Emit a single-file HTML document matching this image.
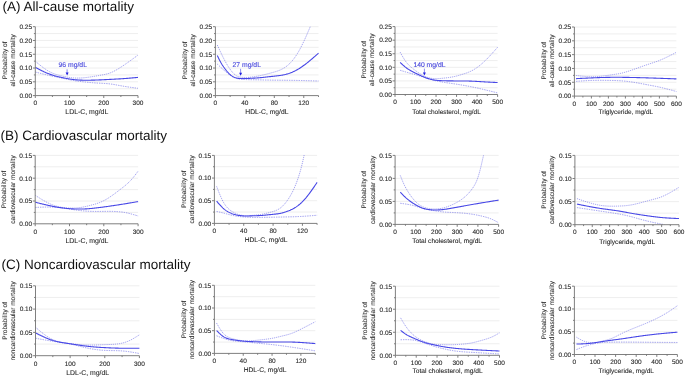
<!DOCTYPE html><html><head><meta charset="utf-8"><style>
html,body{margin:0;padding:0;background:#fff;}
body{width:685px;height:377px;overflow:hidden;}
svg{display:block;will-change:transform;text-rendering:geometricPrecision;font-family:"Liberation Sans", sans-serif;}
.ttl{font-size:13.5px;fill:#111;}
.tl{font-size:6.5px;fill:#262626;stroke:#262626;stroke-width:0.1px;}
.xt{font-size:6.9px;fill:#262626;stroke:#262626;stroke-width:0.08px;}
.yt{font-size:6.5px;fill:#333;stroke:#333;stroke-width:0.1px;}
.ann{font-size:6.8px;fill:#4848dc;stroke:#4848dc;stroke-width:0.12px;}
.grid{stroke:#ececec;stroke-width:0.9;fill:none;}
.axis{stroke:#707070;stroke-width:0.9;fill:none;}
.main{stroke:#4848e6;stroke-width:1.1;fill:none;}
.ci{stroke:#6262e6;stroke-width:0.6;fill:none;stroke-dasharray:1.2 0.9;}
.ci2{stroke:#6262e6;stroke-width:0.6;fill:none;stroke-dasharray:1.4 1;}
.arr{stroke:#8080ee;stroke-width:0.9;fill:none;}
.arrh{fill:#2020e0;}
</style></head><body><svg width="685" height="377" viewBox="0 0 685 377">
<rect width="685" height="377" fill="#fff"/>
<text x="2.60" y="10.60" class="ttl">(A) All-cause mortality</text>
<text x="0.40" y="139.60" class="ttl">(B) Cardiovascular mortality</text>
<text x="1.40" y="269.10" class="ttl">(C) Noncardiovascular mortality</text>
<path d="M35.80,88.71H138.00M35.80,81.82H138.00M35.80,74.93H138.00M35.80,68.04H138.00M35.80,61.15H138.00M35.80,54.26H138.00M35.80,47.37H138.00M35.80,40.48H138.00M35.80,33.59H138.00M35.80,26.70H138.00" class="grid"/>
<clipPath id="clip00"><rect x="35.30" y="26.20" width="103.70" height="69.40"/></clipPath>
<g clip-path="url(#clip00)">
<path d="M35.30,61.21 L36.01,61.80 L36.72,62.39 L37.42,62.99 L38.13,63.58 L38.84,64.16 L39.55,64.74 L40.26,65.31 L40.97,65.88 L41.67,66.43 L42.38,66.98 L43.09,67.51 L43.80,68.04 L44.51,68.55 L45.22,69.04 L45.92,69.52 L46.63,69.99 L47.34,70.43 L48.05,70.86 L48.76,71.27 L49.47,71.66 L50.17,72.02 L50.88,72.37 L51.59,72.71 L52.30,73.02 L53.01,73.32 L53.72,73.60 L54.42,73.87 L55.13,74.12 L55.84,74.36 L56.55,74.59 L57.26,74.80 L57.96,75.01 L58.67,75.20 L59.38,75.39 L60.09,75.57 L60.80,75.74 L61.51,75.91 L62.21,76.07 L62.92,76.22 L63.63,76.37 L64.34,76.52 L65.05,76.67 L65.76,76.81 L66.46,76.94 L67.17,77.07 L67.88,77.20 L68.59,77.31 L69.30,77.43 L70.01,77.53 L70.71,77.63 L71.42,77.72 L72.13,77.80 L72.84,77.87 L73.55,77.93 L74.26,77.98 L74.96,78.02 L75.67,78.05 L76.38,78.07 L77.09,78.08 L77.80,78.08 L78.50,78.07 L79.21,78.06 L79.92,78.03 L80.63,78.00 L81.34,77.96 L82.05,77.92 L82.75,77.86 L83.46,77.80 L84.17,77.74 L84.88,77.66 L85.59,77.59 L86.30,77.50 L87.00,77.42 L87.71,77.33 L88.42,77.23 L89.13,77.13 L89.84,77.03 L90.55,76.92 L91.25,76.81 L91.96,76.70 L92.67,76.59 L93.38,76.47 L94.09,76.35 L94.80,76.23 L95.50,76.11 L96.21,75.99 L96.92,75.87 L97.63,75.75 L98.34,75.63 L99.04,75.50 L99.75,75.38 L100.46,75.26 L101.17,75.14 L101.88,75.02 L102.59,74.89 L103.29,74.75 L104.00,74.62 L104.71,74.47 L105.42,74.31 L106.13,74.14 L106.84,73.96 L107.54,73.77 L108.25,73.56 L108.96,73.34 L109.67,73.09 L110.38,72.83 L111.09,72.55 L111.79,72.25 L112.50,71.93 L113.21,71.60 L113.92,71.25 L114.63,70.89 L115.34,70.51 L116.04,70.12 L116.75,69.71 L117.46,69.30 L118.17,68.88 L118.88,68.44 L119.58,68.00 L120.29,67.55 L121.00,67.09 L121.71,66.63 L122.42,66.16 L123.13,65.69 L123.83,65.21 L124.54,64.73 L125.25,64.25 L125.96,63.76 L126.67,63.27 L127.38,62.77 L128.08,62.27 L128.79,61.77 L129.50,61.27 L130.21,60.76 L130.92,60.25 L131.63,59.74 L132.33,59.23 L133.04,58.71 L133.75,58.20 L134.46,57.68 L135.17,57.16 L135.88,56.65 L136.58,56.13 L137.29,55.61 L138.00,55.09" class="ci"/>
<path d="M35.30,72.01 L36.01,72.19 L36.72,72.38 L37.42,72.56 L38.13,72.75 L38.84,72.93 L39.55,73.11 L40.26,73.30 L40.97,73.48 L41.67,73.66 L42.38,73.84 L43.09,74.01 L43.80,74.19 L44.51,74.36 L45.22,74.54 L45.92,74.71 L46.63,74.88 L47.34,75.04 L48.05,75.21 L48.76,75.37 L49.47,75.53 L50.17,75.68 L50.88,75.84 L51.59,75.99 L52.30,76.14 L53.01,76.29 L53.72,76.44 L54.42,76.59 L55.13,76.73 L55.84,76.88 L56.55,77.02 L57.26,77.17 L57.96,77.31 L58.67,77.46 L59.38,77.60 L60.09,77.75 L60.80,77.90 L61.51,78.04 L62.21,78.19 L62.92,78.34 L63.63,78.49 L64.34,78.65 L65.05,78.80 L65.76,78.96 L66.46,79.12 L67.17,79.27 L67.88,79.42 L68.59,79.57 L69.30,79.72 L70.01,79.86 L70.71,80.00 L71.42,80.13 L72.13,80.26 L72.84,80.39 L73.55,80.51 L74.26,80.63 L74.96,80.74 L75.67,80.85 L76.38,80.95 L77.09,81.06 L77.80,81.16 L78.50,81.25 L79.21,81.35 L79.92,81.44 L80.63,81.53 L81.34,81.61 L82.05,81.69 L82.75,81.78 L83.46,81.85 L84.17,81.93 L84.88,82.01 L85.59,82.08 L86.30,82.15 L87.00,82.22 L87.71,82.29 L88.42,82.36 L89.13,82.43 L89.84,82.49 L90.55,82.55 L91.25,82.61 L91.96,82.67 L92.67,82.73 L93.38,82.78 L94.09,82.84 L94.80,82.89 L95.50,82.94 L96.21,82.99 L96.92,83.03 L97.63,83.08 L98.34,83.12 L99.04,83.16 L99.75,83.20 L100.46,83.24 L101.17,83.28 L101.88,83.31 L102.59,83.35 L103.29,83.39 L104.00,83.43 L104.71,83.47 L105.42,83.51 L106.13,83.56 L106.84,83.62 L107.54,83.67 L108.25,83.74 L108.96,83.81 L109.67,83.88 L110.38,83.97 L111.09,84.06 L111.79,84.16 L112.50,84.27 L113.21,84.38 L113.92,84.50 L114.63,84.62 L115.34,84.74 L116.04,84.87 L116.75,85.00 L117.46,85.13 L118.17,85.26 L118.88,85.40 L119.58,85.53 L120.29,85.66 L121.00,85.79 L121.71,85.92 L122.42,86.04 L123.13,86.17 L123.83,86.28 L124.54,86.40 L125.25,86.51 L125.96,86.63 L126.67,86.73 L127.38,86.84 L128.08,86.95 L128.79,87.05 L129.50,87.15 L130.21,87.25 L130.92,87.35 L131.63,87.44 L132.33,87.54 L133.04,87.63 L133.75,87.72 L134.46,87.82 L135.17,87.91 L135.88,88.00 L136.58,88.09 L137.29,88.18 L138.00,88.27" class="ci2"/>
<path d="M35.30,67.30 L36.01,67.68 L36.72,68.05 L37.42,68.43 L38.13,68.81 L38.84,69.18 L39.55,69.55 L40.26,69.92 L40.97,70.28 L41.67,70.64 L42.38,70.99 L43.09,71.34 L43.80,71.68 L44.51,72.02 L45.22,72.34 L45.92,72.66 L46.63,72.97 L47.34,73.27 L48.05,73.56 L48.76,73.84 L49.47,74.11 L50.17,74.37 L50.88,74.62 L51.59,74.86 L52.30,75.09 L53.01,75.31 L53.72,75.52 L54.42,75.73 L55.13,75.93 L55.84,76.12 L56.55,76.31 L57.26,76.48 L57.96,76.66 L58.67,76.83 L59.38,76.99 L60.09,77.15 L60.80,77.30 L61.51,77.45 L62.21,77.60 L62.92,77.75 L63.63,77.89 L64.34,78.03 L65.05,78.17 L65.76,78.31 L66.46,78.44 L67.17,78.57 L67.88,78.70 L68.59,78.83 L69.30,78.95 L70.01,79.06 L70.71,79.17 L71.42,79.28 L72.13,79.38 L72.84,79.47 L73.55,79.56 L74.26,79.65 L74.96,79.72 L75.67,79.79 L76.38,79.86 L77.09,79.91 L77.80,79.97 L78.50,80.01 L79.21,80.05 L79.92,80.09 L80.63,80.12 L81.34,80.15 L82.05,80.17 L82.75,80.19 L83.46,80.21 L84.17,80.22 L84.88,80.23 L85.59,80.23 L86.30,80.23 L87.00,80.23 L87.71,80.22 L88.42,80.22 L89.13,80.21 L89.84,80.20 L90.55,80.19 L91.25,80.17 L91.96,80.15 L92.67,80.14 L93.38,80.12 L94.09,80.10 L94.80,80.08 L95.50,80.05 L96.21,80.03 L96.92,80.00 L97.63,79.98 L98.34,79.95 L99.04,79.92 L99.75,79.89 L100.46,79.86 L101.17,79.83 L101.88,79.79 L102.59,79.76 L103.29,79.73 L104.00,79.69 L104.71,79.66 L105.42,79.62 L106.13,79.59 L106.84,79.55 L107.54,79.52 L108.25,79.48 L108.96,79.44 L109.67,79.41 L110.38,79.37 L111.09,79.34 L111.79,79.30 L112.50,79.26 L113.21,79.22 L113.92,79.19 L114.63,79.15 L115.34,79.11 L116.04,79.07 L116.75,79.03 L117.46,78.99 L118.17,78.95 L118.88,78.91 L119.58,78.87 L120.29,78.83 L121.00,78.78 L121.71,78.74 L122.42,78.69 L123.13,78.64 L123.83,78.59 L124.54,78.55 L125.25,78.49 L125.96,78.44 L126.67,78.39 L127.38,78.33 L128.08,78.28 L128.79,78.22 L129.50,78.16 L130.21,78.10 L130.92,78.04 L131.63,77.98 L132.33,77.92 L133.04,77.86 L133.75,77.79 L134.46,77.73 L135.17,77.67 L135.88,77.60 L136.58,77.54 L137.29,77.47 L138.00,77.41" class="main"/>
</g>
<path d="M35.30,26.70V95.60H138.00M32.90,95.60H35.30M33.90,88.71H35.30M32.90,81.82H35.30M33.90,74.93H35.30M32.90,68.04H35.30M33.90,61.15H35.30M32.90,54.26H35.30M33.90,47.37H35.30M32.90,40.48H35.30M33.90,33.59H35.30M32.90,26.70H35.30M35.30,95.60V98.00M69.53,95.60V98.00M103.77,95.60V98.00M138.00,95.60V98.00M52.42,95.60V97.00M86.65,95.60V97.00M120.88,95.60V97.00" class="axis"/>
<text x="32.10" y="97.90" class="tl" text-anchor="end">0.00</text>
<text x="32.10" y="84.12" class="tl" text-anchor="end">0.05</text>
<text x="32.10" y="70.34" class="tl" text-anchor="end">0.10</text>
<text x="32.10" y="56.56" class="tl" text-anchor="end">0.15</text>
<text x="32.10" y="42.78" class="tl" text-anchor="end">0.20</text>
<text x="32.10" y="29.00" class="tl" text-anchor="end">0.25</text>
<text x="35.30" y="104.90" class="tl" text-anchor="middle">0</text>
<text x="69.53" y="104.90" class="tl" text-anchor="middle">100</text>
<text x="103.77" y="104.90" class="tl" text-anchor="middle">200</text>
<text x="138.00" y="104.90" class="tl" text-anchor="middle">300</text>
<text x="86.80" y="114.20" class="xt" style="font-size:6.90px" text-anchor="middle">LDL-C, mg/dL</text>
<text transform="translate(6.50,60.35) rotate(-90)" class="yt" text-anchor="middle">Probability of</text>
<text transform="translate(14.70,60.35) rotate(-90)" class="yt" text-anchor="middle">all-cause mortality</text>
<text x="58.60" y="66.90" class="ann">96 mg/dL</text>
<path d="M67.10,69.30V73.10" class="arr"/>
<path d="M65.60,72.60L68.60,72.60L67.10,75.60Z" class="arrh"/>
<path d="M215.90,88.71H318.50M215.90,81.82H318.50M215.90,74.93H318.50M215.90,68.04H318.50M215.90,61.15H318.50M215.90,54.26H318.50M215.90,47.37H318.50M215.90,40.48H318.50M215.90,33.59H318.50M215.90,26.70H318.50" class="grid"/>
<clipPath id="clip01"><rect x="215.40" y="26.20" width="104.10" height="69.40"/></clipPath>
<g clip-path="url(#clip01)">
<path d="M217.31,45.00 L218.02,46.55 L218.73,48.09 L219.44,49.63 L220.15,51.16 L220.86,52.67 L221.57,54.16 L222.28,55.64 L222.99,57.08 L223.70,58.49 L224.41,59.87 L225.12,61.20 L225.83,62.49 L226.54,63.73 L227.25,64.93 L227.96,66.08 L228.67,67.18 L229.38,68.24 L230.08,69.25 L230.79,70.21 L231.50,71.12 L232.21,71.98 L232.92,72.78 L233.63,73.53 L234.34,74.20 L235.05,74.81 L235.76,75.34 L236.47,75.79 L237.18,76.17 L237.89,76.47 L238.60,76.71 L239.31,76.90 L240.02,77.04 L240.73,77.15 L241.44,77.23 L242.15,77.29 L242.85,77.34 L243.56,77.38 L244.27,77.41 L244.98,77.43 L245.69,77.44 L246.40,77.44 L247.11,77.42 L247.82,77.39 L248.53,77.36 L249.24,77.31 L249.95,77.25 L250.66,77.19 L251.37,77.11 L252.08,77.03 L252.79,76.94 L253.50,76.84 L254.21,76.73 L254.92,76.62 L255.62,76.50 L256.33,76.37 L257.04,76.24 L257.75,76.11 L258.46,75.97 L259.17,75.82 L259.88,75.67 L260.59,75.52 L261.30,75.37 L262.01,75.21 L262.72,75.05 L263.43,74.89 L264.14,74.72 L264.85,74.55 L265.56,74.38 L266.27,74.20 L266.98,74.02 L267.69,73.84 L268.39,73.66 L269.10,73.47 L269.81,73.28 L270.52,73.09 L271.23,72.90 L271.94,72.70 L272.65,72.50 L273.36,72.30 L274.07,72.10 L274.78,71.89 L275.49,71.67 L276.20,71.45 L276.91,71.22 L277.62,70.97 L278.33,70.72 L279.04,70.44 L279.75,70.16 L280.46,69.85 L281.16,69.53 L281.87,69.18 L282.58,68.81 L283.29,68.42 L284.00,68.01 L284.71,67.56 L285.42,67.09 L286.13,66.59 L286.84,66.05 L287.55,65.48 L288.26,64.88 L288.97,64.24 L289.68,63.57 L290.39,62.85 L291.10,62.10 L291.81,61.30 L292.52,60.47 L293.23,59.59 L293.93,58.67 L294.64,57.71 L295.35,56.71 L296.06,55.66 L296.77,54.57 L297.48,53.44 L298.19,52.25 L298.90,51.03 L299.61,49.75 L300.32,48.44 L301.03,47.08 L301.74,45.68 L302.45,44.25 L303.16,42.78 L303.87,41.27 L304.58,39.74 L305.29,38.18 L306.00,36.59 L306.70,34.98 L307.41,33.35 L308.12,31.70 L308.83,30.04 L309.54,28.37 L310.25,26.70" class="ci"/>
<path d="M217.31,63.99 L218.02,64.69 L218.73,65.39 L219.44,66.09 L220.15,66.77 L220.85,67.44 L221.56,68.09 L222.27,68.73 L222.98,69.36 L223.68,69.97 L224.39,70.58 L225.10,71.19 L225.81,71.79 L226.51,72.39 L227.22,72.98 L227.93,73.55 L228.64,74.11 L229.34,74.65 L230.05,75.16 L230.76,75.65 L231.47,76.10 L232.17,76.53 L232.88,76.92 L233.59,77.28 L234.30,77.61 L235.00,77.91 L235.71,78.18 L236.42,78.41 L237.13,78.61 L237.83,78.77 L238.54,78.92 L239.25,79.04 L239.96,79.14 L240.67,79.22 L241.37,79.29 L242.08,79.35 L242.79,79.41 L243.50,79.46 L244.20,79.50 L244.91,79.54 L245.62,79.57 L246.33,79.60 L247.03,79.63 L247.74,79.65 L248.45,79.67 L249.16,79.68 L249.86,79.70 L250.57,79.71 L251.28,79.72 L251.99,79.73 L252.69,79.74 L253.40,79.75 L254.11,79.77 L254.82,79.78 L255.52,79.79 L256.23,79.81 L256.94,79.82 L257.65,79.84 L258.35,79.85 L259.06,79.87 L259.77,79.88 L260.48,79.90 L261.19,79.92 L261.89,79.93 L262.60,79.95 L263.31,79.97 L264.02,79.98 L264.72,80.00 L265.43,80.02 L266.14,80.03 L266.85,80.05 L267.55,80.06 L268.26,80.08 L268.97,80.09 L269.68,80.11 L270.38,80.12 L271.09,80.14 L271.80,80.15 L272.51,80.16 L273.21,80.17 L273.92,80.18 L274.63,80.19 L275.34,80.20 L276.04,80.21 L276.75,80.22 L277.46,80.23 L278.17,80.23 L278.87,80.24 L279.58,80.24 L280.29,80.25 L281.00,80.26 L281.71,80.26 L282.41,80.27 L283.12,80.27 L283.83,80.28 L284.54,80.28 L285.24,80.29 L285.95,80.29 L286.66,80.30 L287.37,80.30 L288.07,80.31 L288.78,80.32 L289.49,80.32 L290.20,80.33 L290.90,80.34 L291.61,80.35 L292.32,80.36 L293.03,80.37 L293.73,80.38 L294.44,80.39 L295.15,80.40 L295.86,80.41 L296.56,80.42 L297.27,80.43 L297.98,80.45 L298.69,80.46 L299.40,80.48 L300.10,80.49 L300.81,80.51 L301.52,80.52 L302.23,80.54 L302.93,80.56 L303.64,80.57 L304.35,80.59 L305.06,80.61 L305.76,80.63 L306.47,80.65 L307.18,80.66 L307.89,80.68 L308.59,80.70 L309.30,80.72 L310.01,80.74 L310.72,80.76 L311.42,80.78 L312.13,80.80 L312.84,80.82 L313.55,80.85 L314.25,80.87 L314.96,80.89 L315.67,80.91 L316.38,80.93 L317.08,80.95 L317.79,80.97 L318.50,80.99" class="ci2"/>
<path d="M217.31,55.61 L218.02,57.07 L218.73,58.51 L219.44,59.92 L220.15,61.28 L220.85,62.58 L221.56,63.79 L222.27,64.94 L222.98,66.02 L223.68,67.05 L224.39,68.03 L225.10,68.97 L225.81,69.89 L226.51,70.77 L227.22,71.62 L227.93,72.42 L228.64,73.18 L229.34,73.88 L230.05,74.54 L230.76,75.13 L231.47,75.66 L232.17,76.13 L232.88,76.55 L233.59,76.91 L234.30,77.23 L235.00,77.50 L235.71,77.74 L236.42,77.93 L237.13,78.10 L237.83,78.23 L238.54,78.34 L239.25,78.42 L239.96,78.48 L240.67,78.53 L241.37,78.55 L242.08,78.57 L242.79,78.58 L243.50,78.57 L244.20,78.56 L244.91,78.55 L245.62,78.53 L246.33,78.50 L247.03,78.47 L247.74,78.45 L248.45,78.42 L249.16,78.38 L249.86,78.35 L250.57,78.32 L251.28,78.29 L251.99,78.25 L252.69,78.21 L253.40,78.17 L254.11,78.13 L254.82,78.09 L255.52,78.05 L256.23,78.00 L256.94,77.95 L257.65,77.90 L258.35,77.84 L259.06,77.78 L259.77,77.72 L260.48,77.66 L261.19,77.59 L261.89,77.52 L262.60,77.45 L263.31,77.38 L264.02,77.30 L264.72,77.22 L265.43,77.15 L266.14,77.07 L266.85,76.99 L267.55,76.91 L268.26,76.82 L268.97,76.74 L269.68,76.66 L270.38,76.58 L271.09,76.50 L271.80,76.42 L272.51,76.34 L273.21,76.27 L273.92,76.19 L274.63,76.12 L275.34,76.04 L276.04,75.96 L276.75,75.88 L277.46,75.80 L278.17,75.72 L278.87,75.63 L279.58,75.53 L280.29,75.43 L281.00,75.32 L281.71,75.21 L282.41,75.09 L283.12,74.96 L283.83,74.82 L284.54,74.67 L285.24,74.51 L285.95,74.34 L286.66,74.15 L287.37,73.95 L288.07,73.74 L288.78,73.52 L289.49,73.28 L290.20,73.02 L290.90,72.75 L291.61,72.46 L292.32,72.17 L293.03,71.85 L293.73,71.52 L294.44,71.18 L295.15,70.83 L295.86,70.46 L296.56,70.07 L297.27,69.68 L297.98,69.27 L298.69,68.85 L299.40,68.41 L300.10,67.96 L300.81,67.50 L301.52,67.03 L302.23,66.55 L302.93,66.05 L303.64,65.54 L304.35,65.02 L305.06,64.50 L305.76,63.96 L306.47,63.41 L307.18,62.85 L307.89,62.29 L308.59,61.71 L309.30,61.13 L310.01,60.54 L310.72,59.95 L311.42,59.35 L312.13,58.75 L312.84,58.14 L313.55,57.52 L314.25,56.91 L314.96,56.29 L315.67,55.66 L316.38,55.04 L317.08,54.41 L317.79,53.79 L318.50,53.16" class="main"/>
</g>
<path d="M215.40,26.70V95.60H318.50M213.00,95.60H215.40M214.00,88.71H215.40M213.00,81.82H215.40M214.00,74.93H215.40M213.00,68.04H215.40M214.00,61.15H215.40M213.00,54.26H215.40M214.00,47.37H215.40M213.00,40.48H215.40M214.00,33.59H215.40M213.00,26.70H215.40M215.40,95.60V98.00M244.86,95.60V98.00M274.31,95.60V98.00M303.77,95.60V98.00M230.13,95.60V97.00M259.59,95.60V97.00M289.04,95.60V97.00M318.50,95.60V97.00" class="axis"/>
<text x="212.20" y="97.90" class="tl" text-anchor="end">0.00</text>
<text x="212.20" y="84.12" class="tl" text-anchor="end">0.05</text>
<text x="212.20" y="70.34" class="tl" text-anchor="end">0.10</text>
<text x="212.20" y="56.56" class="tl" text-anchor="end">0.15</text>
<text x="212.20" y="42.78" class="tl" text-anchor="end">0.20</text>
<text x="212.20" y="29.00" class="tl" text-anchor="end">0.25</text>
<text x="215.40" y="104.90" class="tl" text-anchor="middle">0</text>
<text x="244.86" y="104.90" class="tl" text-anchor="middle">40</text>
<text x="274.31" y="104.90" class="tl" text-anchor="middle">80</text>
<text x="303.77" y="104.90" class="tl" text-anchor="middle">120</text>
<text x="266.90" y="113.90" class="xt" style="font-size:6.75px" text-anchor="middle">HDL-C, mg/dL</text>
<text transform="translate(186.60,60.35) rotate(-90)" class="yt" text-anchor="middle">Probability of</text>
<text transform="translate(194.80,60.35) rotate(-90)" class="yt" text-anchor="middle">all-cause mortality</text>
<text x="232.60" y="66.90" class="ann">27 mg/dL</text>
<path d="M240.60,68.80V73.20" class="arr"/>
<path d="M239.10,72.70L242.10,72.70L240.60,75.70Z" class="arrh"/>
<path d="M395.50,87.71H497.60M395.50,80.92H497.60M395.50,74.13H497.60M395.50,67.34H497.60M395.50,60.55H497.60M395.50,53.76H497.60M395.50,46.97H497.60M395.50,40.18H497.60M395.50,33.39H497.60M395.50,26.60H497.60" class="grid"/>
<clipPath id="clip02"><rect x="395.00" y="26.10" width="103.60" height="68.40"/></clipPath>
<g clip-path="url(#clip02)">
<path d="M400.13,52.13 L400.84,53.40 L401.54,54.67 L402.25,55.91 L402.96,57.13 L403.66,58.30 L404.37,59.44 L405.07,60.51 L405.78,61.52 L406.49,62.45 L407.19,63.32 L407.90,64.13 L408.61,64.88 L409.31,65.59 L410.02,66.25 L410.72,66.88 L411.43,67.47 L412.14,68.05 L412.84,68.60 L413.55,69.15 L414.26,69.68 L414.96,70.22 L415.67,70.74 L416.38,71.26 L417.08,71.77 L417.79,72.27 L418.49,72.76 L419.20,73.23 L419.91,73.69 L420.61,74.13 L421.32,74.56 L422.03,74.96 L422.73,75.35 L423.44,75.72 L424.14,76.06 L424.85,76.38 L425.56,76.68 L426.26,76.96 L426.97,77.21 L427.68,77.45 L428.38,77.66 L429.09,77.85 L429.79,78.02 L430.50,78.17 L431.21,78.30 L431.91,78.41 L432.62,78.50 L433.33,78.57 L434.03,78.62 L434.74,78.66 L435.45,78.68 L436.15,78.68 L436.86,78.67 L437.56,78.65 L438.27,78.61 L438.98,78.57 L439.68,78.52 L440.39,78.46 L441.10,78.40 L441.80,78.33 L442.51,78.26 L443.21,78.18 L443.92,78.11 L444.63,78.03 L445.33,77.96 L446.04,77.87 L446.75,77.79 L447.45,77.70 L448.16,77.61 L448.87,77.51 L449.57,77.41 L450.28,77.30 L450.98,77.19 L451.69,77.07 L452.40,76.94 L453.10,76.80 L453.81,76.65 L454.52,76.50 L455.22,76.33 L455.93,76.16 L456.63,75.99 L457.34,75.80 L458.05,75.61 L458.75,75.42 L459.46,75.22 L460.17,75.01 L460.87,74.80 L461.58,74.59 L462.28,74.37 L462.99,74.15 L463.70,73.93 L464.40,73.70 L465.11,73.47 L465.82,73.23 L466.52,72.98 L467.23,72.72 L467.94,72.45 L468.64,72.17 L469.35,71.87 L470.05,71.56 L470.76,71.24 L471.47,70.90 L472.17,70.54 L472.88,70.16 L473.59,69.76 L474.29,69.34 L475.00,68.90 L475.70,68.44 L476.41,67.97 L477.12,67.47 L477.82,66.96 L478.53,66.43 L479.24,65.88 L479.94,65.32 L480.65,64.74 L481.36,64.14 L482.06,63.53 L482.77,62.91 L483.47,62.26 L484.18,61.61 L484.89,60.93 L485.59,60.25 L486.30,59.55 L487.01,58.85 L487.71,58.13 L488.42,57.40 L489.12,56.66 L489.83,55.91 L490.54,55.15 L491.24,54.38 L491.95,53.61 L492.66,52.83 L493.36,52.04 L494.07,51.25 L494.77,50.45 L495.48,49.65 L496.19,48.85 L496.89,48.05 L497.60,47.24" class="ci"/>
<path d="M400.13,70.33 L400.84,70.53 L401.54,70.73 L402.25,70.94 L402.96,71.14 L403.66,71.35 L404.37,71.55 L405.07,71.75 L405.78,71.96 L406.49,72.16 L407.19,72.36 L407.90,72.57 L408.61,72.77 L409.31,72.98 L410.02,73.18 L410.72,73.39 L411.43,73.59 L412.14,73.79 L412.84,74.00 L413.55,74.20 L414.26,74.41 L414.96,74.61 L415.67,74.82 L416.38,75.02 L417.08,75.23 L417.79,75.44 L418.49,75.65 L419.20,75.86 L419.91,76.07 L420.61,76.28 L421.32,76.49 L422.03,76.71 L422.73,76.93 L423.44,77.15 L424.14,77.37 L424.85,77.59 L425.56,77.81 L426.26,78.04 L426.97,78.26 L427.68,78.49 L428.38,78.71 L429.09,78.93 L429.79,79.14 L430.50,79.35 L431.21,79.56 L431.91,79.76 L432.62,79.96 L433.33,80.15 L434.03,80.33 L434.74,80.51 L435.45,80.68 L436.15,80.84 L436.86,81.00 L437.56,81.15 L438.27,81.29 L438.98,81.44 L439.68,81.57 L440.39,81.71 L441.10,81.83 L441.80,81.96 L442.51,82.08 L443.21,82.20 L443.92,82.31 L444.63,82.42 L445.33,82.53 L446.04,82.64 L446.75,82.75 L447.45,82.85 L448.16,82.96 L448.87,83.06 L449.57,83.16 L450.28,83.26 L450.98,83.36 L451.69,83.47 L452.40,83.57 L453.10,83.67 L453.81,83.77 L454.52,83.88 L455.22,83.99 L455.93,84.09 L456.63,84.20 L457.34,84.31 L458.05,84.42 L458.75,84.54 L459.46,84.65 L460.17,84.76 L460.87,84.88 L461.58,85.00 L462.28,85.12 L462.99,85.24 L463.70,85.36 L464.40,85.48 L465.11,85.61 L465.82,85.74 L466.52,85.86 L467.23,85.99 L467.94,86.13 L468.64,86.26 L469.35,86.39 L470.05,86.53 L470.76,86.67 L471.47,86.81 L472.17,86.95 L472.88,87.10 L473.59,87.24 L474.29,87.39 L475.00,87.54 L475.70,87.69 L476.41,87.84 L477.12,88.00 L477.82,88.15 L478.53,88.31 L479.24,88.47 L479.94,88.63 L480.65,88.79 L481.36,88.95 L482.06,89.12 L482.77,89.28 L483.47,89.45 L484.18,89.61 L484.89,89.78 L485.59,89.95 L486.30,90.12 L487.01,90.29 L487.71,90.47 L488.42,90.64 L489.12,90.81 L489.83,90.99 L490.54,91.16 L491.24,91.33 L491.95,91.51 L492.66,91.69 L493.36,91.86 L494.07,92.04 L494.77,92.22 L495.48,92.39 L496.19,92.57 L496.89,92.75 L497.60,92.92" class="ci2"/>
<path d="M400.13,62.45 L400.84,63.11 L401.54,63.77 L402.25,64.42 L402.96,65.06 L403.66,65.68 L404.37,66.29 L405.07,66.87 L405.78,67.42 L406.49,67.95 L407.19,68.46 L407.90,68.93 L408.61,69.39 L409.31,69.83 L410.02,70.25 L410.72,70.65 L411.43,71.04 L412.14,71.42 L412.84,71.80 L413.55,72.17 L414.26,72.53 L414.96,72.89 L415.67,73.24 L416.38,73.60 L417.08,73.94 L417.79,74.29 L418.49,74.62 L419.20,74.95 L419.91,75.28 L420.61,75.60 L421.32,75.91 L422.03,76.22 L422.73,76.52 L423.44,76.81 L424.14,77.10 L424.85,77.37 L425.56,77.64 L426.26,77.90 L426.97,78.15 L427.68,78.38 L428.38,78.61 L429.09,78.83 L429.79,79.03 L430.50,79.22 L431.21,79.40 L431.91,79.57 L432.62,79.72 L433.33,79.86 L434.03,79.99 L434.74,80.10 L435.45,80.20 L436.15,80.29 L436.86,80.36 L437.56,80.43 L438.27,80.49 L438.98,80.54 L439.68,80.59 L440.39,80.62 L441.10,80.66 L441.80,80.69 L442.51,80.71 L443.21,80.74 L443.92,80.76 L444.63,80.78 L445.33,80.80 L446.04,80.81 L446.75,80.83 L447.45,80.85 L448.16,80.86 L448.87,80.87 L449.57,80.88 L450.28,80.89 L450.98,80.90 L451.69,80.91 L452.40,80.92 L453.10,80.92 L453.81,80.93 L454.52,80.93 L455.22,80.94 L455.93,80.94 L456.63,80.94 L457.34,80.94 L458.05,80.95 L458.75,80.95 L459.46,80.95 L460.17,80.96 L460.87,80.96 L461.58,80.96 L462.28,80.97 L462.99,80.98 L463.70,80.98 L464.40,80.99 L465.11,81.00 L465.82,81.01 L466.52,81.02 L467.23,81.03 L467.94,81.05 L468.64,81.06 L469.35,81.08 L470.05,81.10 L470.76,81.12 L471.47,81.15 L472.17,81.18 L472.88,81.21 L473.59,81.24 L474.29,81.27 L475.00,81.31 L475.70,81.35 L476.41,81.38 L477.12,81.43 L477.82,81.47 L478.53,81.51 L479.24,81.55 L479.94,81.60 L480.65,81.64 L481.36,81.68 L482.06,81.73 L482.77,81.77 L483.47,81.81 L484.18,81.85 L484.89,81.89 L485.59,81.93 L486.30,81.97 L487.01,82.01 L487.71,82.05 L488.42,82.08 L489.12,82.12 L489.83,82.16 L490.54,82.20 L491.24,82.23 L491.95,82.27 L492.66,82.30 L493.36,82.34 L494.07,82.37 L494.77,82.41 L495.48,82.44 L496.19,82.48 L496.89,82.51 L497.60,82.55" class="main"/>
</g>
<path d="M395.00,26.60V94.50H497.60M392.60,94.50H395.00M393.60,87.71H395.00M392.60,80.92H395.00M393.60,74.13H395.00M392.60,67.34H395.00M393.60,60.55H395.00M392.60,53.76H395.00M393.60,46.97H395.00M392.60,40.18H395.00M393.60,33.39H395.00M392.60,26.60H395.00M395.00,94.50V96.90M415.52,94.50V96.90M436.04,94.50V96.90M456.56,94.50V96.90M477.08,94.50V96.90M497.60,94.50V96.90M405.26,94.50V95.90M425.78,94.50V95.90M446.30,94.50V95.90M466.82,94.50V95.90M487.34,94.50V95.90" class="axis"/>
<text x="391.80" y="96.80" class="tl" text-anchor="end">0.00</text>
<text x="391.80" y="83.22" class="tl" text-anchor="end">0.05</text>
<text x="391.80" y="69.64" class="tl" text-anchor="end">0.10</text>
<text x="391.80" y="56.06" class="tl" text-anchor="end">0.15</text>
<text x="391.80" y="42.48" class="tl" text-anchor="end">0.20</text>
<text x="391.80" y="28.90" class="tl" text-anchor="end">0.25</text>
<text x="395.00" y="104.40" class="tl" text-anchor="middle">0</text>
<text x="415.52" y="104.40" class="tl" text-anchor="middle">100</text>
<text x="436.04" y="104.40" class="tl" text-anchor="middle">200</text>
<text x="456.56" y="104.40" class="tl" text-anchor="middle">300</text>
<text x="477.08" y="104.40" class="tl" text-anchor="middle">400</text>
<text x="497.60" y="104.40" class="tl" text-anchor="middle">500</text>
<text x="446.50" y="113.70" class="xt" style="font-size:6.50px" text-anchor="middle">Total cholesterol, mg/dL</text>
<text transform="translate(366.20,59.75) rotate(-90)" class="yt" text-anchor="middle">Probability of</text>
<text transform="translate(374.40,59.75) rotate(-90)" class="yt" text-anchor="middle">all-cause mortality</text>
<text x="413.40" y="66.80" class="ann">140 mg/dL</text>
<path d="M424.40,68.60V73.10" class="arr"/>
<path d="M422.90,72.60L425.90,72.60L424.40,75.60Z" class="arrh"/>
<path d="M574.90,89.19H676.40M574.90,82.28H676.40M574.90,75.37H676.40M574.90,68.46H676.40M574.90,61.55H676.40M574.90,54.64H676.40M574.90,47.73H676.40M574.90,40.82H676.40M574.90,33.91H676.40M574.90,27.00H676.40" class="grid"/>
<clipPath id="clip03"><rect x="574.40" y="26.50" width="103.00" height="69.60"/></clipPath>
<g clip-path="url(#clip03)">
<path d="M576.10,75.48 L576.81,75.56 L577.51,75.65 L578.22,75.73 L578.93,75.81 L579.63,75.89 L580.34,75.97 L581.04,76.05 L581.75,76.12 L582.46,76.19 L583.16,76.26 L583.87,76.33 L584.58,76.39 L585.28,76.45 L585.99,76.50 L586.70,76.55 L587.40,76.60 L588.11,76.64 L588.81,76.67 L589.52,76.70 L590.23,76.72 L590.93,76.74 L591.64,76.75 L592.35,76.75 L593.05,76.75 L593.76,76.74 L594.46,76.72 L595.17,76.69 L595.88,76.66 L596.58,76.62 L597.29,76.58 L598.00,76.53 L598.70,76.47 L599.41,76.41 L600.12,76.34 L600.82,76.27 L601.53,76.19 L602.23,76.11 L602.94,76.03 L603.65,75.94 L604.35,75.85 L605.06,75.75 L605.77,75.66 L606.47,75.56 L607.18,75.46 L607.89,75.35 L608.59,75.25 L609.30,75.15 L610.00,75.04 L610.71,74.94 L611.42,74.84 L612.12,74.73 L612.83,74.63 L613.54,74.53 L614.24,74.43 L614.95,74.33 L615.65,74.23 L616.36,74.12 L617.07,74.01 L617.77,73.89 L618.48,73.77 L619.19,73.64 L619.89,73.50 L620.60,73.36 L621.31,73.20 L622.01,73.04 L622.72,72.86 L623.42,72.68 L624.13,72.49 L624.84,72.30 L625.54,72.10 L626.25,71.89 L626.96,71.68 L627.66,71.46 L628.37,71.23 L629.08,71.00 L629.78,70.77 L630.49,70.54 L631.19,70.30 L631.90,70.05 L632.61,69.81 L633.31,69.56 L634.02,69.31 L634.73,69.06 L635.43,68.81 L636.14,68.56 L636.85,68.30 L637.55,68.05 L638.26,67.79 L638.96,67.54 L639.67,67.29 L640.38,67.03 L641.08,66.78 L641.79,66.53 L642.50,66.28 L643.20,66.03 L643.91,65.78 L644.61,65.53 L645.32,65.29 L646.03,65.05 L646.73,64.81 L647.44,64.57 L648.15,64.34 L648.85,64.11 L649.56,63.87 L650.27,63.64 L650.97,63.41 L651.68,63.18 L652.38,62.94 L653.09,62.71 L653.80,62.47 L654.50,62.23 L655.21,61.99 L655.92,61.74 L656.62,61.49 L657.33,61.23 L658.04,60.97 L658.74,60.70 L659.45,60.42 L660.15,60.14 L660.86,59.85 L661.57,59.55 L662.27,59.25 L662.98,58.94 L663.69,58.63 L664.39,58.30 L665.10,57.98 L665.80,57.65 L666.51,57.31 L667.22,56.97 L667.92,56.63 L668.63,56.28 L669.34,55.93 L670.04,55.57 L670.75,55.21 L671.46,54.85 L672.16,54.49 L672.87,54.13 L673.57,53.76 L674.28,53.40 L674.99,53.03 L675.69,52.66 L676.40,52.29" class="ci"/>
<path d="M576.10,81.37 L576.81,81.32 L577.51,81.26 L578.22,81.21 L578.93,81.16 L579.63,81.11 L580.34,81.06 L581.04,81.01 L581.75,80.96 L582.46,80.91 L583.16,80.87 L583.87,80.82 L584.58,80.78 L585.28,80.74 L585.99,80.69 L586.70,80.65 L587.40,80.62 L588.11,80.58 L588.81,80.55 L589.52,80.51 L590.23,80.48 L590.93,80.46 L591.64,80.43 L592.35,80.41 L593.05,80.39 L593.76,80.37 L594.46,80.36 L595.17,80.34 L595.88,80.33 L596.58,80.32 L597.29,80.32 L598.00,80.31 L598.70,80.31 L599.41,80.31 L600.12,80.31 L600.82,80.31 L601.53,80.32 L602.23,80.32 L602.94,80.33 L603.65,80.34 L604.35,80.34 L605.06,80.35 L605.77,80.36 L606.47,80.37 L607.18,80.38 L607.89,80.39 L608.59,80.40 L609.30,80.41 L610.00,80.43 L610.71,80.44 L611.42,80.45 L612.12,80.47 L612.83,80.48 L613.54,80.50 L614.24,80.52 L614.95,80.54 L615.65,80.56 L616.36,80.59 L617.07,80.61 L617.77,80.64 L618.48,80.68 L619.19,80.72 L619.89,80.76 L620.60,80.80 L621.31,80.85 L622.01,80.90 L622.72,80.95 L623.42,81.01 L624.13,81.08 L624.84,81.14 L625.54,81.21 L626.25,81.28 L626.96,81.36 L627.66,81.44 L628.37,81.53 L629.08,81.61 L629.78,81.70 L630.49,81.80 L631.19,81.90 L631.90,82.00 L632.61,82.10 L633.31,82.21 L634.02,82.32 L634.73,82.44 L635.43,82.56 L636.14,82.68 L636.85,82.80 L637.55,82.92 L638.26,83.05 L638.96,83.18 L639.67,83.31 L640.38,83.44 L641.08,83.57 L641.79,83.71 L642.50,83.84 L643.20,83.98 L643.91,84.11 L644.61,84.25 L645.32,84.38 L646.03,84.52 L646.73,84.65 L647.44,84.78 L648.15,84.91 L648.85,85.05 L649.56,85.18 L650.27,85.31 L650.97,85.44 L651.68,85.57 L652.38,85.71 L653.09,85.84 L653.80,85.98 L654.50,86.12 L655.21,86.25 L655.92,86.40 L656.62,86.54 L657.33,86.68 L658.04,86.83 L658.74,86.98 L659.45,87.14 L660.15,87.29 L660.86,87.45 L661.57,87.62 L662.27,87.78 L662.98,87.95 L663.69,88.12 L664.39,88.30 L665.10,88.47 L665.80,88.65 L666.51,88.83 L667.22,89.02 L667.92,89.20 L668.63,89.39 L669.34,89.58 L670.04,89.77 L670.75,89.96 L671.46,90.15 L672.16,90.34 L672.87,90.54 L673.57,90.73 L674.28,90.92 L674.99,91.12 L675.69,91.32 L676.40,91.51" class="ci2"/>
<path d="M576.10,78.63 L576.81,78.60 L577.51,78.56 L578.22,78.53 L578.93,78.49 L579.63,78.46 L580.34,78.42 L581.04,78.39 L581.75,78.35 L582.46,78.32 L583.16,78.29 L583.87,78.25 L584.58,78.22 L585.28,78.19 L585.99,78.15 L586.70,78.12 L587.40,78.09 L588.11,78.05 L588.81,78.02 L589.52,77.99 L590.23,77.96 L590.93,77.93 L591.64,77.90 L592.35,77.87 L593.05,77.84 L593.76,77.81 L594.46,77.78 L595.17,77.75 L595.88,77.72 L596.58,77.70 L597.29,77.67 L598.00,77.64 L598.70,77.62 L599.41,77.59 L600.12,77.57 L600.82,77.55 L601.53,77.53 L602.23,77.50 L602.94,77.48 L603.65,77.46 L604.35,77.44 L605.06,77.43 L605.77,77.41 L606.47,77.39 L607.18,77.38 L607.89,77.37 L608.59,77.35 L609.30,77.34 L610.00,77.33 L610.71,77.32 L611.42,77.31 L612.12,77.31 L612.83,77.30 L613.54,77.30 L614.24,77.29 L614.95,77.29 L615.65,77.29 L616.36,77.29 L617.07,77.29 L617.77,77.29 L618.48,77.30 L619.19,77.30 L619.89,77.30 L620.60,77.31 L621.31,77.32 L622.01,77.32 L622.72,77.33 L623.42,77.34 L624.13,77.34 L624.84,77.35 L625.54,77.36 L626.25,77.37 L626.96,77.38 L627.66,77.40 L628.37,77.41 L629.08,77.42 L629.78,77.43 L630.49,77.45 L631.19,77.46 L631.90,77.47 L632.61,77.49 L633.31,77.50 L634.02,77.52 L634.73,77.54 L635.43,77.55 L636.14,77.57 L636.85,77.59 L637.55,77.60 L638.26,77.62 L638.96,77.64 L639.67,77.66 L640.38,77.68 L641.08,77.70 L641.79,77.72 L642.50,77.74 L643.20,77.76 L643.91,77.78 L644.61,77.80 L645.32,77.82 L646.03,77.84 L646.73,77.87 L647.44,77.89 L648.15,77.91 L648.85,77.93 L649.56,77.95 L650.27,77.98 L650.97,78.00 L651.68,78.02 L652.38,78.05 L653.09,78.07 L653.80,78.09 L654.50,78.12 L655.21,78.14 L655.92,78.17 L656.62,78.19 L657.33,78.21 L658.04,78.24 L658.74,78.26 L659.45,78.29 L660.15,78.31 L660.86,78.34 L661.57,78.36 L662.27,78.39 L662.98,78.41 L663.69,78.44 L664.39,78.46 L665.10,78.49 L665.80,78.52 L666.51,78.54 L667.22,78.57 L667.92,78.59 L668.63,78.62 L669.34,78.65 L670.04,78.67 L670.75,78.70 L671.46,78.72 L672.16,78.75 L672.87,78.78 L673.57,78.80 L674.28,78.83 L674.99,78.86 L675.69,78.88 L676.40,78.91" class="main"/>
</g>
<path d="M574.40,27.00V96.10H676.40M572.00,96.10H574.40M573.00,89.19H574.40M572.00,82.28H574.40M573.00,75.37H574.40M572.00,68.46H574.40M573.00,61.55H574.40M572.00,54.64H574.40M573.00,47.73H574.40M572.00,40.82H574.40M573.00,33.91H574.40M572.00,27.00H574.40M574.40,96.10V98.50M591.40,96.10V98.50M608.40,96.10V98.50M625.40,96.10V98.50M642.40,96.10V98.50M659.40,96.10V98.50M676.40,96.10V98.50M582.90,96.10V97.50M599.90,96.10V97.50M616.90,96.10V97.50M633.90,96.10V97.50M650.90,96.10V97.50M667.90,96.10V97.50" class="axis"/>
<text x="571.20" y="98.40" class="tl" text-anchor="end">0.00</text>
<text x="571.20" y="84.58" class="tl" text-anchor="end">0.05</text>
<text x="571.20" y="70.76" class="tl" text-anchor="end">0.10</text>
<text x="571.20" y="56.94" class="tl" text-anchor="end">0.15</text>
<text x="571.20" y="43.12" class="tl" text-anchor="end">0.20</text>
<text x="571.20" y="29.30" class="tl" text-anchor="end">0.25</text>
<text x="574.40" y="106.20" class="tl" text-anchor="middle">0</text>
<text x="591.40" y="106.20" class="tl" text-anchor="middle">100</text>
<text x="608.40" y="106.20" class="tl" text-anchor="middle">200</text>
<text x="625.40" y="106.20" class="tl" text-anchor="middle">300</text>
<text x="642.40" y="106.20" class="tl" text-anchor="middle">400</text>
<text x="659.40" y="106.20" class="tl" text-anchor="middle">500</text>
<text x="676.40" y="106.20" class="tl" text-anchor="middle">600</text>
<text x="625.80" y="114.20" class="xt" style="font-size:6.45px" text-anchor="middle">Triglyceride, mg/dL</text>
<text transform="translate(545.60,60.75) rotate(-90)" class="yt" text-anchor="middle">Probability of</text>
<text transform="translate(553.80,60.75) rotate(-90)" class="yt" text-anchor="middle">all-cause mortality</text>
<path d="M35.70,212.40H138.10M35.70,201.00H138.10M35.70,189.60H138.10M35.70,178.20H138.10M35.70,166.80H138.10M35.70,155.40H138.10" class="grid"/>
<clipPath id="clip10"><rect x="35.20" y="154.90" width="103.90" height="68.90"/></clipPath>
<g clip-path="url(#clip10)">
<path d="M35.20,195.30 L35.90,195.75 L36.61,196.20 L37.31,196.65 L38.02,197.10 L38.72,197.55 L39.43,197.99 L40.13,198.43 L40.84,198.86 L41.54,199.29 L42.25,199.72 L42.95,200.13 L43.66,200.55 L44.36,200.95 L45.07,201.35 L45.77,201.73 L46.48,202.11 L47.18,202.48 L47.89,202.84 L48.59,203.19 L49.30,203.52 L50.00,203.85 L50.71,204.16 L51.41,204.45 L52.12,204.74 L52.82,205.01 L53.52,205.26 L54.23,205.50 L54.93,205.73 L55.64,205.95 L56.34,206.15 L57.05,206.34 L57.75,206.52 L58.46,206.69 L59.16,206.85 L59.87,207.00 L60.57,207.13 L61.28,207.26 L61.98,207.37 L62.69,207.48 L63.39,207.57 L64.10,207.66 L64.80,207.74 L65.51,207.81 L66.21,207.87 L66.92,207.93 L67.62,207.98 L68.33,208.02 L69.03,208.05 L69.73,208.08 L70.44,208.10 L71.14,208.11 L71.85,208.12 L72.55,208.12 L73.26,208.11 L73.96,208.09 L74.67,208.07 L75.37,208.04 L76.08,207.99 L76.78,207.94 L77.49,207.88 L78.19,207.81 L78.90,207.73 L79.60,207.64 L80.31,207.54 L81.01,207.42 L81.72,207.30 L82.42,207.18 L83.13,207.04 L83.83,206.90 L84.54,206.75 L85.24,206.59 L85.95,206.44 L86.65,206.27 L87.35,206.11 L88.06,205.94 L88.76,205.77 L89.47,205.59 L90.17,205.42 L90.88,205.24 L91.58,205.06 L92.29,204.88 L92.99,204.69 L93.70,204.50 L94.40,204.30 L95.11,204.09 L95.81,203.88 L96.52,203.66 L97.22,203.42 L97.93,203.18 L98.63,202.93 L99.34,202.66 L100.04,202.39 L100.75,202.10 L101.45,201.79 L102.16,201.47 L102.86,201.14 L103.57,200.79 L104.27,200.42 L104.97,200.04 L105.68,199.65 L106.38,199.24 L107.09,198.82 L107.79,198.38 L108.50,197.94 L109.20,197.48 L109.91,197.02 L110.61,196.54 L111.32,196.06 L112.02,195.56 L112.73,195.06 L113.43,194.56 L114.14,194.04 L114.84,193.52 L115.55,193.00 L116.25,192.47 L116.96,191.94 L117.66,191.41 L118.37,190.87 L119.07,190.33 L119.78,189.79 L120.48,189.25 L121.18,188.71 L121.89,188.17 L122.59,187.62 L123.30,187.07 L124.00,186.51 L124.71,185.94 L125.41,185.36 L126.12,184.76 L126.82,184.15 L127.53,183.51 L128.23,182.86 L128.94,182.19 L129.64,181.49 L130.35,180.77 L131.05,180.02 L131.76,179.24 L132.46,178.43 L133.17,177.59 L133.87,176.72 L134.58,175.82 L135.28,174.91 L135.99,173.98 L136.69,173.04 L137.40,172.09 L138.10,171.13" class="ci"/>
<path d="M35.20,207.48 L35.90,207.44 L36.61,207.40 L37.31,207.36 L38.02,207.33 L38.72,207.29 L39.43,207.26 L40.13,207.23 L40.84,207.20 L41.54,207.17 L42.25,207.14 L42.95,207.12 L43.66,207.10 L44.36,207.08 L45.07,207.06 L45.77,207.05 L46.48,207.04 L47.18,207.04 L47.89,207.04 L48.59,207.04 L49.30,207.05 L50.00,207.06 L50.71,207.08 L51.41,207.10 L52.12,207.13 L52.82,207.16 L53.52,207.20 L54.23,207.25 L54.93,207.30 L55.64,207.35 L56.34,207.41 L57.05,207.47 L57.75,207.54 L58.46,207.61 L59.16,207.68 L59.87,207.76 L60.57,207.84 L61.28,207.93 L61.98,208.01 L62.69,208.10 L63.39,208.20 L64.10,208.29 L64.80,208.39 L65.51,208.49 L66.21,208.59 L66.92,208.69 L67.62,208.79 L68.33,208.90 L69.03,209.00 L69.73,209.11 L70.44,209.21 L71.14,209.32 L71.85,209.43 L72.55,209.53 L73.26,209.64 L73.96,209.74 L74.67,209.85 L75.37,209.95 L76.08,210.05 L76.78,210.14 L77.49,210.24 L78.19,210.33 L78.90,210.41 L79.60,210.50 L80.31,210.58 L81.01,210.65 L81.72,210.73 L82.42,210.80 L83.13,210.86 L83.83,210.92 L84.54,210.98 L85.24,211.03 L85.95,211.09 L86.65,211.13 L87.35,211.18 L88.06,211.22 L88.76,211.25 L89.47,211.29 L90.17,211.32 L90.88,211.34 L91.58,211.36 L92.29,211.38 L92.99,211.40 L93.70,211.41 L94.40,211.42 L95.11,211.43 L95.81,211.44 L96.52,211.44 L97.22,211.44 L97.93,211.44 L98.63,211.43 L99.34,211.43 L100.04,211.42 L100.75,211.42 L101.45,211.41 L102.16,211.40 L102.86,211.39 L103.57,211.39 L104.27,211.38 L104.97,211.37 L105.68,211.36 L106.38,211.36 L107.09,211.36 L107.79,211.35 L108.50,211.35 L109.20,211.35 L109.91,211.36 L110.61,211.36 L111.32,211.37 L112.02,211.38 L112.73,211.40 L113.43,211.41 L114.14,211.44 L114.84,211.46 L115.55,211.49 L116.25,211.53 L116.96,211.57 L117.66,211.61 L118.37,211.67 L119.07,211.72 L119.78,211.79 L120.48,211.86 L121.18,211.94 L121.89,212.03 L122.59,212.12 L123.30,212.22 L124.00,212.34 L124.71,212.46 L125.41,212.59 L126.12,212.73 L126.82,212.88 L127.53,213.03 L128.23,213.19 L128.94,213.36 L129.64,213.54 L130.35,213.72 L131.05,213.91 L131.76,214.10 L132.46,214.29 L133.17,214.49 L133.87,214.70 L134.58,214.90 L135.28,215.11 L135.99,215.32 L136.69,215.53 L137.40,215.74 L138.10,215.96" class="ci2"/>
<path d="M35.20,202.19 L35.90,202.37 L36.61,202.55 L37.31,202.73 L38.02,202.91 L38.72,203.08 L39.43,203.26 L40.13,203.44 L40.84,203.62 L41.54,203.79 L42.25,203.97 L42.95,204.14 L43.66,204.31 L44.36,204.48 L45.07,204.65 L45.77,204.81 L46.48,204.98 L47.18,205.14 L47.89,205.30 L48.59,205.46 L49.30,205.61 L50.00,205.76 L50.71,205.91 L51.41,206.06 L52.12,206.20 L52.82,206.34 L53.52,206.47 L54.23,206.61 L54.93,206.74 L55.64,206.86 L56.34,206.99 L57.05,207.11 L57.75,207.22 L58.46,207.34 L59.16,207.45 L59.87,207.55 L60.57,207.65 L61.28,207.75 L61.98,207.85 L62.69,207.94 L63.39,208.03 L64.10,208.12 L64.80,208.20 L65.51,208.28 L66.21,208.36 L66.92,208.43 L67.62,208.50 L68.33,208.56 L69.03,208.62 L69.73,208.68 L70.44,208.73 L71.14,208.78 L71.85,208.83 L72.55,208.87 L73.26,208.91 L73.96,208.95 L74.67,208.98 L75.37,209.00 L76.08,209.03 L76.78,209.04 L77.49,209.06 L78.19,209.07 L78.90,209.07 L79.60,209.07 L80.31,209.07 L81.01,209.06 L81.72,209.04 L82.42,209.02 L83.13,209.00 L83.83,208.98 L84.54,208.95 L85.24,208.91 L85.95,208.87 L86.65,208.83 L87.35,208.79 L88.06,208.74 L88.76,208.68 L89.47,208.63 L90.17,208.57 L90.88,208.51 L91.58,208.44 L92.29,208.37 L92.99,208.30 L93.70,208.23 L94.40,208.15 L95.11,208.07 L95.81,207.99 L96.52,207.91 L97.22,207.82 L97.93,207.74 L98.63,207.65 L99.34,207.56 L100.04,207.47 L100.75,207.38 L101.45,207.29 L102.16,207.19 L102.86,207.10 L103.57,207.00 L104.27,206.91 L104.97,206.81 L105.68,206.71 L106.38,206.62 L107.09,206.52 L107.79,206.42 L108.50,206.32 L109.20,206.22 L109.91,206.12 L110.61,206.02 L111.32,205.91 L112.02,205.81 L112.73,205.71 L113.43,205.60 L114.14,205.50 L114.84,205.39 L115.55,205.29 L116.25,205.18 L116.96,205.07 L117.66,204.96 L118.37,204.85 L119.07,204.74 L119.78,204.63 L120.48,204.52 L121.18,204.41 L121.89,204.30 L122.59,204.19 L123.30,204.07 L124.00,203.96 L124.71,203.84 L125.41,203.73 L126.12,203.61 L126.82,203.49 L127.53,203.38 L128.23,203.26 L128.94,203.14 L129.64,203.03 L130.35,202.91 L131.05,202.79 L131.76,202.67 L132.46,202.55 L133.17,202.43 L133.87,202.31 L134.58,202.19 L135.28,202.07 L135.99,201.95 L136.69,201.83 L137.40,201.71 L138.10,201.59" class="main"/>
</g>
<path d="M35.20,155.40V223.80H138.10M32.80,223.80H35.20M33.80,212.40H35.20M32.80,201.00H35.20M33.80,189.60H35.20M32.80,178.20H35.20M33.80,166.80H35.20M32.80,155.40H35.20M35.20,223.80V226.20M69.50,223.80V226.20M103.80,223.80V226.20M138.10,223.80V226.20M52.35,223.80V225.20M86.65,223.80V225.20M120.95,223.80V225.20" class="axis"/>
<text x="32.00" y="226.10" class="tl" text-anchor="end">0.00</text>
<text x="32.00" y="203.30" class="tl" text-anchor="end">0.05</text>
<text x="32.00" y="180.50" class="tl" text-anchor="end">0.10</text>
<text x="32.00" y="157.70" class="tl" text-anchor="end">0.15</text>
<text x="35.20" y="233.90" class="tl" text-anchor="middle">0</text>
<text x="69.50" y="233.90" class="tl" text-anchor="middle">100</text>
<text x="103.80" y="233.90" class="tl" text-anchor="middle">200</text>
<text x="138.10" y="233.90" class="tl" text-anchor="middle">300</text>
<text x="86.95" y="242.90" class="xt" style="font-size:6.90px" text-anchor="middle">LDL-C, mg/dL</text>
<text transform="translate(6.40,189.50) rotate(-90)" class="yt" text-anchor="middle">Probability of</text>
<text transform="translate(14.60,189.50) rotate(-90)" class="yt" text-anchor="middle">cardiovascular mortality</text>
<path d="M214.90,212.07H317.10M214.90,200.73H317.10M214.90,189.40H317.10M214.90,178.07H317.10M214.90,166.73H317.10M214.90,155.40H317.10" class="grid"/>
<clipPath id="clip11"><rect x="214.40" y="154.90" width="103.70" height="68.50"/></clipPath>
<g clip-path="url(#clip11)">
<path d="M216.60,186.36 L217.31,188.20 L218.01,190.02 L218.72,191.81 L219.43,193.57 L220.14,195.27 L220.84,196.91 L221.55,198.48 L222.26,199.96 L222.96,201.34 L223.67,202.60 L224.38,203.77 L225.08,204.83 L225.79,205.81 L226.50,206.70 L227.20,207.51 L227.91,208.25 L228.62,208.92 L229.33,209.54 L230.03,210.10 L230.74,210.62 L231.45,211.09 L232.15,211.54 L232.86,211.96 L233.57,212.35 L234.27,212.72 L234.98,213.08 L235.69,213.41 L236.40,213.72 L237.10,214.00 L237.81,214.27 L238.52,214.51 L239.22,214.73 L239.93,214.93 L240.64,215.10 L241.34,215.25 L242.05,215.38 L242.76,215.49 L243.46,215.58 L244.17,215.64 L244.88,215.69 L245.59,215.72 L246.29,215.73 L247.00,215.73 L247.71,215.72 L248.41,215.69 L249.12,215.66 L249.83,215.61 L250.53,215.57 L251.24,215.51 L251.95,215.45 L252.66,215.39 L253.36,215.33 L254.07,215.27 L254.78,215.20 L255.48,215.13 L256.19,215.06 L256.90,214.98 L257.60,214.90 L258.31,214.81 L259.02,214.72 L259.72,214.62 L260.43,214.52 L261.14,214.41 L261.85,214.28 L262.55,214.16 L263.26,214.02 L263.97,213.88 L264.67,213.72 L265.38,213.56 L266.09,213.40 L266.79,213.23 L267.50,213.05 L268.21,212.87 L268.92,212.68 L269.62,212.49 L270.33,212.29 L271.04,212.09 L271.74,211.89 L272.45,211.68 L273.16,211.47 L273.86,211.25 L274.57,211.01 L275.28,210.76 L275.98,210.48 L276.69,210.18 L277.40,209.84 L278.11,209.48 L278.81,209.07 L279.52,208.62 L280.23,208.13 L280.93,207.58 L281.64,206.99 L282.35,206.35 L283.05,205.66 L283.76,204.93 L284.47,204.14 L285.17,203.31 L285.88,202.43 L286.59,201.51 L287.30,200.53 L288.00,199.51 L288.71,198.45 L289.42,197.34 L290.12,196.17 L290.83,194.95 L291.54,193.67 L292.24,192.33 L292.95,190.92 L293.66,189.43 L294.37,187.87 L295.07,186.23 L295.78,184.50 L296.49,182.68 L297.19,180.77 L297.90,178.76 L298.61,176.64 L299.31,174.40 L300.02,172.03 L300.73,169.52 L301.43,166.85 L302.14,164.01 L302.85,161.00 L303.56,157.80 L304.26,154.49" class="ci"/>
<path d="M216.60,211.48 L217.31,211.63 L218.02,211.78 L218.72,211.93 L219.43,212.09 L220.14,212.25 L220.85,212.41 L221.55,212.57 L222.26,212.74 L222.97,212.92 L223.68,213.10 L224.39,213.28 L225.09,213.47 L225.80,213.66 L226.51,213.85 L227.22,214.04 L227.92,214.23 L228.63,214.42 L229.34,214.60 L230.05,214.78 L230.76,214.96 L231.46,215.13 L232.17,215.30 L232.88,215.45 L233.59,215.60 L234.29,215.74 L235.00,215.87 L235.71,215.99 L236.42,216.11 L237.13,216.22 L237.83,216.32 L238.54,216.42 L239.25,216.51 L239.96,216.59 L240.66,216.67 L241.37,216.74 L242.08,216.81 L242.79,216.87 L243.49,216.93 L244.20,216.99 L244.91,217.04 L245.62,217.08 L246.33,217.13 L247.03,217.17 L247.74,217.20 L248.45,217.23 L249.16,217.26 L249.86,217.29 L250.57,217.31 L251.28,217.33 L251.99,217.35 L252.70,217.36 L253.40,217.37 L254.11,217.38 L254.82,217.39 L255.53,217.40 L256.23,217.40 L256.94,217.40 L257.65,217.40 L258.36,217.40 L259.07,217.40 L259.77,217.39 L260.48,217.39 L261.19,217.38 L261.90,217.37 L262.60,217.36 L263.31,217.36 L264.02,217.35 L264.73,217.34 L265.43,217.33 L266.14,217.32 L266.85,217.31 L267.56,217.29 L268.27,217.28 L268.97,217.27 L269.68,217.26 L270.39,217.24 L271.10,217.23 L271.80,217.22 L272.51,217.20 L273.22,217.19 L273.93,217.17 L274.64,217.16 L275.34,217.14 L276.05,217.13 L276.76,217.11 L277.47,217.10 L278.17,217.08 L278.88,217.07 L279.59,217.05 L280.30,217.04 L281.01,217.03 L281.71,217.01 L282.42,217.00 L283.13,216.98 L283.84,216.97 L284.54,216.96 L285.25,216.94 L285.96,216.93 L286.67,216.91 L287.37,216.90 L288.08,216.88 L288.79,216.87 L289.50,216.85 L290.21,216.83 L290.91,216.82 L291.62,216.80 L292.33,216.78 L293.04,216.76 L293.74,216.74 L294.45,216.71 L295.16,216.69 L295.87,216.67 L296.58,216.64 L297.28,216.61 L297.99,216.58 L298.70,216.55 L299.41,216.52 L300.11,216.49 L300.82,216.45 L301.53,216.41 L302.24,216.37 L302.95,216.33 L303.65,216.29 L304.36,216.24 L305.07,216.19 L305.78,216.15 L306.48,216.10 L307.19,216.05 L307.90,215.99 L308.61,215.94 L309.31,215.88 L310.02,215.83 L310.73,215.77 L311.44,215.72 L312.15,215.66 L312.85,215.60 L313.56,215.54 L314.27,215.48 L314.98,215.42 L315.68,215.36 L316.39,215.30 L317.10,215.24" class="ci2"/>
<path d="M216.60,201.10 L217.31,201.94 L218.02,202.78 L218.72,203.61 L219.43,204.42 L220.14,205.22 L220.85,205.99 L221.55,206.73 L222.26,207.44 L222.97,208.11 L223.68,208.74 L224.39,209.33 L225.09,209.88 L225.80,210.39 L226.51,210.87 L227.22,211.32 L227.92,211.73 L228.63,212.12 L229.34,212.48 L230.05,212.81 L230.76,213.12 L231.46,213.41 L232.17,213.68 L232.88,213.93 L233.59,214.16 L234.29,214.38 L235.00,214.58 L235.71,214.77 L236.42,214.94 L237.13,215.10 L237.83,215.24 L238.54,215.37 L239.25,215.48 L239.96,215.59 L240.66,215.67 L241.37,215.75 L242.08,215.81 L242.79,215.87 L243.49,215.91 L244.20,215.93 L244.91,215.95 L245.62,215.97 L246.33,215.97 L247.03,215.97 L247.74,215.96 L248.45,215.95 L249.16,215.93 L249.86,215.91 L250.57,215.89 L251.28,215.86 L251.99,215.84 L252.70,215.82 L253.40,215.80 L254.11,215.78 L254.82,215.75 L255.53,215.73 L256.23,215.71 L256.94,215.69 L257.65,215.66 L258.36,215.63 L259.07,215.60 L259.77,215.57 L260.48,215.53 L261.19,215.48 L261.90,215.43 L262.60,215.38 L263.31,215.32 L264.02,215.26 L264.73,215.19 L265.43,215.12 L266.14,215.05 L266.85,214.97 L267.56,214.90 L268.27,214.82 L268.97,214.74 L269.68,214.66 L270.39,214.58 L271.10,214.51 L271.80,214.43 L272.51,214.36 L273.22,214.29 L273.93,214.22 L274.64,214.15 L275.34,214.08 L276.05,214.00 L276.76,213.92 L277.47,213.83 L278.17,213.73 L278.88,213.62 L279.59,213.50 L280.30,213.37 L281.01,213.22 L281.71,213.06 L282.42,212.88 L283.13,212.70 L283.84,212.50 L284.54,212.29 L285.25,212.06 L285.96,211.83 L286.67,211.58 L287.37,211.32 L288.08,211.05 L288.79,210.77 L289.50,210.47 L290.21,210.17 L290.91,209.85 L291.62,209.51 L292.33,209.16 L293.04,208.79 L293.74,208.40 L294.45,207.99 L295.16,207.56 L295.87,207.11 L296.58,206.63 L297.28,206.13 L297.99,205.60 L298.70,205.04 L299.41,204.46 L300.11,203.86 L300.82,203.22 L301.53,202.56 L302.24,201.87 L302.95,201.16 L303.65,200.42 L304.36,199.65 L305.07,198.86 L305.78,198.04 L306.48,197.19 L307.19,196.32 L307.90,195.43 L308.61,194.51 L309.31,193.57 L310.02,192.62 L310.73,191.65 L311.44,190.66 L312.15,189.66 L312.85,188.65 L313.56,187.62 L314.27,186.59 L314.98,185.56 L315.68,184.51 L316.39,183.47 L317.10,182.42" class="main"/>
</g>
<path d="M214.40,155.40V223.40H317.10M212.00,223.40H214.40M213.00,212.07H214.40M212.00,200.73H214.40M213.00,189.40H214.40M212.00,178.07H214.40M213.00,166.73H214.40M212.00,155.40H214.40M214.40,223.40V225.80M243.74,223.40V225.80M273.09,223.40V225.80M302.43,223.40V225.80M229.07,223.40V224.80M258.41,223.40V224.80M287.76,223.40V224.80M317.10,223.40V224.80" class="axis"/>
<text x="211.20" y="225.70" class="tl" text-anchor="end">0.00</text>
<text x="211.20" y="203.03" class="tl" text-anchor="end">0.05</text>
<text x="211.20" y="180.37" class="tl" text-anchor="end">0.10</text>
<text x="211.20" y="157.70" class="tl" text-anchor="end">0.15</text>
<text x="214.40" y="232.80" class="tl" text-anchor="middle">0</text>
<text x="243.74" y="232.80" class="tl" text-anchor="middle">40</text>
<text x="273.09" y="232.80" class="tl" text-anchor="middle">80</text>
<text x="302.43" y="232.80" class="tl" text-anchor="middle">120</text>
<text x="266.05" y="241.70" class="xt" style="font-size:6.70px" text-anchor="middle">HDL-C, mg/dL</text>
<text transform="translate(185.60,189.30) rotate(-90)" class="yt" text-anchor="middle">Probability of</text>
<text transform="translate(193.80,189.30) rotate(-90)" class="yt" text-anchor="middle">cardiovascular mortality</text>
<path d="M395.60,212.90H498.60M395.60,201.40H498.60M395.60,189.90H498.60M395.60,178.40H498.60M395.60,166.90H498.60M395.60,155.40H498.60" class="grid"/>
<clipPath id="clip12"><rect x="395.10" y="154.90" width="104.50" height="69.50"/></clipPath>
<g clip-path="url(#clip12)">
<path d="M400.28,175.41 L400.99,177.21 L401.70,178.99 L402.41,180.73 L403.12,182.41 L403.83,184.01 L404.54,185.51 L405.25,186.92 L405.96,188.24 L406.68,189.50 L407.39,190.69 L408.10,191.84 L408.81,192.95 L409.52,194.03 L410.23,195.06 L410.94,196.06 L411.65,197.02 L412.37,197.94 L413.08,198.82 L413.79,199.67 L414.50,200.47 L415.21,201.23 L415.92,201.95 L416.63,202.63 L417.34,203.26 L418.06,203.86 L418.77,204.42 L419.48,204.93 L420.19,205.41 L420.90,205.84 L421.61,206.24 L422.32,206.60 L423.03,206.92 L423.75,207.21 L424.46,207.48 L425.17,207.72 L425.88,207.93 L426.59,208.11 L427.30,208.28 L428.01,208.43 L428.72,208.56 L429.44,208.67 L430.15,208.76 L430.86,208.84 L431.57,208.90 L432.28,208.95 L432.99,208.98 L433.70,209.00 L434.41,209.00 L435.13,209.00 L435.84,208.98 L436.55,208.94 L437.26,208.90 L437.97,208.84 L438.68,208.76 L439.39,208.67 L440.10,208.57 L440.82,208.46 L441.53,208.33 L442.24,208.18 L442.95,208.02 L443.66,207.84 L444.37,207.65 L445.08,207.45 L445.79,207.23 L446.50,207.00 L447.22,206.76 L447.93,206.50 L448.64,206.24 L449.35,205.96 L450.06,205.67 L450.77,205.37 L451.48,205.06 L452.19,204.74 L452.91,204.41 L453.62,204.07 L454.33,203.73 L455.04,203.37 L455.75,203.00 L456.46,202.62 L457.17,202.23 L457.88,201.82 L458.60,201.40 L459.31,200.96 L460.02,200.50 L460.73,200.03 L461.44,199.54 L462.15,199.02 L462.86,198.49 L463.57,197.94 L464.29,197.36 L465.00,196.75 L465.71,196.12 L466.42,195.46 L467.13,194.77 L467.84,194.05 L468.55,193.29 L469.26,192.49 L469.98,191.66 L470.69,190.78 L471.40,189.87 L472.11,188.91 L472.82,187.90 L473.53,186.84 L474.24,185.69 L474.95,184.44 L475.67,183.05 L476.38,181.50 L477.09,179.78 L477.80,177.84 L478.51,175.67 L479.22,173.26 L479.93,170.62 L480.64,167.80 L481.36,164.83 L482.07,161.75 L482.78,158.59 L483.49,155.40" class="ci"/>
<path d="M400.28,203.29 L400.98,203.38 L401.69,203.47 L402.40,203.56 L403.10,203.65 L403.81,203.75 L404.52,203.85 L405.23,203.95 L405.93,204.05 L406.64,204.16 L407.35,204.28 L408.06,204.40 L408.76,204.53 L409.47,204.66 L410.18,204.80 L410.89,204.95 L411.59,205.10 L412.30,205.27 L413.01,205.44 L413.72,205.63 L414.42,205.82 L415.13,206.03 L415.84,206.24 L416.54,206.45 L417.25,206.68 L417.96,206.90 L418.67,207.13 L419.37,207.35 L420.08,207.58 L420.79,207.80 L421.50,208.01 L422.20,208.22 L422.91,208.43 L423.62,208.62 L424.33,208.80 L425.03,208.97 L425.74,209.14 L426.45,209.29 L427.16,209.44 L427.86,209.59 L428.57,209.72 L429.28,209.85 L429.98,209.98 L430.69,210.10 L431.40,210.22 L432.11,210.34 L432.81,210.46 L433.52,210.57 L434.23,210.69 L434.94,210.81 L435.64,210.92 L436.35,211.03 L437.06,211.14 L437.77,211.25 L438.47,211.36 L439.18,211.46 L439.89,211.56 L440.60,211.65 L441.30,211.74 L442.01,211.82 L442.72,211.89 L443.42,211.96 L444.13,212.02 L444.84,212.08 L445.55,212.13 L446.25,212.18 L446.96,212.22 L447.67,212.26 L448.38,212.29 L449.08,212.33 L449.79,212.36 L450.50,212.39 L451.21,212.42 L451.91,212.45 L452.62,212.48 L453.33,212.51 L454.04,212.54 L454.74,212.57 L455.45,212.61 L456.16,212.65 L456.86,212.69 L457.57,212.73 L458.28,212.77 L458.99,212.82 L459.69,212.87 L460.40,212.92 L461.11,212.97 L461.82,213.03 L462.52,213.09 L463.23,213.15 L463.94,213.22 L464.65,213.28 L465.35,213.36 L466.06,213.43 L466.77,213.51 L467.48,213.59 L468.18,213.67 L468.89,213.76 L469.60,213.86 L470.31,213.95 L471.01,214.05 L471.72,214.16 L472.43,214.27 L473.13,214.38 L473.84,214.50 L474.55,214.62 L475.26,214.74 L475.96,214.87 L476.67,215.01 L477.38,215.15 L478.09,215.29 L478.79,215.44 L479.50,215.59 L480.21,215.74 L480.92,215.90 L481.62,216.06 L482.33,216.23 L483.04,216.40 L483.75,216.57 L484.45,216.76 L485.16,216.94 L485.87,217.14 L486.57,217.34 L487.28,217.56 L487.99,217.78 L488.70,218.02 L489.40,218.27 L490.11,218.53 L490.82,218.81 L491.53,219.10 L492.23,219.41 L492.94,219.74 L493.65,220.08 L494.36,220.43 L495.06,220.80 L495.77,221.18 L496.48,221.56 L497.19,221.95 L497.89,222.35 L498.60,222.74" class="ci2"/>
<path d="M400.28,192.25 L400.98,192.97 L401.69,193.70 L402.40,194.42 L403.10,195.13 L403.81,195.83 L404.52,196.52 L405.23,197.18 L405.93,197.83 L406.64,198.45 L407.35,199.05 L408.06,199.63 L408.76,200.19 L409.47,200.74 L410.18,201.26 L410.89,201.77 L411.59,202.26 L412.30,202.73 L413.01,203.19 L413.72,203.64 L414.42,204.08 L415.13,204.51 L415.84,204.92 L416.54,205.32 L417.25,205.71 L417.96,206.08 L418.67,206.43 L419.37,206.77 L420.08,207.10 L420.79,207.40 L421.50,207.69 L422.20,207.96 L422.91,208.21 L423.62,208.44 L424.33,208.65 L425.03,208.85 L425.74,209.02 L426.45,209.18 L427.16,209.32 L427.86,209.44 L428.57,209.55 L429.28,209.64 L429.98,209.72 L430.69,209.79 L431.40,209.85 L432.11,209.90 L432.81,209.93 L433.52,209.96 L434.23,209.98 L434.94,209.99 L435.64,209.99 L436.35,209.99 L437.06,209.97 L437.77,209.95 L438.47,209.92 L439.18,209.88 L439.89,209.84 L440.60,209.79 L441.30,209.73 L442.01,209.66 L442.72,209.59 L443.42,209.51 L444.13,209.42 L444.84,209.32 L445.55,209.22 L446.25,209.12 L446.96,209.01 L447.67,208.90 L448.38,208.78 L449.08,208.66 L449.79,208.53 L450.50,208.41 L451.21,208.28 L451.91,208.15 L452.62,208.02 L453.33,207.89 L454.04,207.76 L454.74,207.63 L455.45,207.50 L456.16,207.37 L456.86,207.24 L457.57,207.11 L458.28,206.98 L458.99,206.86 L459.69,206.73 L460.40,206.60 L461.11,206.47 L461.82,206.34 L462.52,206.21 L463.23,206.09 L463.94,205.96 L464.65,205.83 L465.35,205.70 L466.06,205.58 L466.77,205.45 L467.48,205.32 L468.18,205.20 L468.89,205.07 L469.60,204.95 L470.31,204.82 L471.01,204.70 L471.72,204.58 L472.43,204.45 L473.13,204.33 L473.84,204.21 L474.55,204.08 L475.26,203.96 L475.96,203.84 L476.67,203.72 L477.38,203.60 L478.09,203.48 L478.79,203.36 L479.50,203.24 L480.21,203.12 L480.92,203.01 L481.62,202.89 L482.33,202.77 L483.04,202.65 L483.75,202.53 L484.45,202.42 L485.16,202.30 L485.87,202.18 L486.57,202.07 L487.28,201.95 L487.99,201.84 L488.70,201.72 L489.40,201.60 L490.11,201.49 L490.82,201.37 L491.53,201.26 L492.23,201.14 L492.94,201.03 L493.65,200.91 L494.36,200.80 L495.06,200.68 L495.77,200.57 L496.48,200.46 L497.19,200.34 L497.89,200.23 L498.60,200.11" class="main"/>
</g>
<path d="M395.10,155.40V224.40H498.60M392.70,224.40H395.10M393.70,212.90H395.10M392.70,201.40H395.10M393.70,189.90H395.10M392.70,178.40H395.10M393.70,166.90H395.10M392.70,155.40H395.10M395.10,224.40V226.80M415.80,224.40V226.80M436.50,224.40V226.80M457.20,224.40V226.80M477.90,224.40V226.80M498.60,224.40V226.80M405.45,224.40V225.80M426.15,224.40V225.80M446.85,224.40V225.80M467.55,224.40V225.80M488.25,224.40V225.80" class="axis"/>
<text x="391.90" y="226.70" class="tl" text-anchor="end">0.00</text>
<text x="391.90" y="203.70" class="tl" text-anchor="end">0.05</text>
<text x="391.90" y="180.70" class="tl" text-anchor="end">0.10</text>
<text x="391.90" y="157.70" class="tl" text-anchor="end">0.15</text>
<text x="395.10" y="234.10" class="tl" text-anchor="middle">0</text>
<text x="415.80" y="234.10" class="tl" text-anchor="middle">100</text>
<text x="436.50" y="234.10" class="tl" text-anchor="middle">200</text>
<text x="457.20" y="234.10" class="tl" text-anchor="middle">300</text>
<text x="477.90" y="234.10" class="tl" text-anchor="middle">400</text>
<text x="498.60" y="234.10" class="tl" text-anchor="middle">500</text>
<text x="447.15" y="242.90" class="xt" style="font-size:6.60px" text-anchor="middle">Total cholesterol, mg/dL</text>
<text transform="translate(366.30,189.80) rotate(-90)" class="yt" text-anchor="middle">Probability of</text>
<text transform="translate(374.50,189.80) rotate(-90)" class="yt" text-anchor="middle">cardiovascular mortality</text>
<path d="M575.40,213.15H679.00M575.40,201.60H679.00M575.40,190.05H679.00M575.40,178.50H679.00M575.40,166.95H679.00M575.40,155.40H679.00" class="grid"/>
<clipPath id="clip13"><rect x="574.90" y="154.90" width="105.10" height="69.80"/></clipPath>
<g clip-path="url(#clip13)">
<path d="M576.98,198.60 L577.69,198.85 L578.40,199.09 L579.11,199.34 L579.82,199.59 L580.52,199.83 L581.23,200.08 L581.94,200.32 L582.65,200.56 L583.36,200.80 L584.07,201.04 L584.78,201.27 L585.48,201.51 L586.19,201.74 L586.90,201.96 L587.61,202.18 L588.32,202.40 L589.03,202.62 L589.73,202.83 L590.44,203.04 L591.15,203.24 L591.86,203.44 L592.57,203.63 L593.28,203.81 L593.99,204.00 L594.69,204.17 L595.40,204.34 L596.11,204.50 L596.82,204.66 L597.53,204.81 L598.24,204.95 L598.94,205.08 L599.65,205.21 L600.36,205.33 L601.07,205.44 L601.78,205.55 L602.49,205.64 L603.19,205.73 L603.90,205.81 L604.61,205.88 L605.32,205.94 L606.03,205.99 L606.74,206.04 L607.45,206.08 L608.15,206.12 L608.86,206.15 L609.57,206.17 L610.28,206.19 L610.99,206.20 L611.70,206.20 L612.40,206.21 L613.11,206.21 L613.82,206.20 L614.53,206.19 L615.24,206.18 L615.95,206.17 L616.66,206.15 L617.36,206.13 L618.07,206.11 L618.78,206.08 L619.49,206.06 L620.20,206.03 L620.91,205.99 L621.61,205.96 L622.32,205.92 L623.03,205.87 L623.74,205.82 L624.45,205.77 L625.16,205.71 L625.87,205.64 L626.57,205.57 L627.28,205.49 L627.99,205.40 L628.70,205.31 L629.41,205.21 L630.12,205.10 L630.82,204.99 L631.53,204.86 L632.24,204.73 L632.95,204.60 L633.66,204.45 L634.37,204.30 L635.08,204.14 L635.78,203.98 L636.49,203.81 L637.20,203.64 L637.91,203.47 L638.62,203.29 L639.33,203.11 L640.03,202.92 L640.74,202.73 L641.45,202.54 L642.16,202.35 L642.87,202.16 L643.58,201.96 L644.29,201.77 L644.99,201.57 L645.70,201.38 L646.41,201.18 L647.12,200.99 L647.83,200.80 L648.54,200.61 L649.24,200.42 L649.95,200.23 L650.66,200.05 L651.37,199.87 L652.08,199.69 L652.79,199.50 L653.50,199.32 L654.20,199.14 L654.91,198.95 L655.62,198.76 L656.33,198.56 L657.04,198.36 L657.75,198.14 L658.45,197.92 L659.16,197.69 L659.87,197.44 L660.58,197.19 L661.29,196.91 L662.00,196.63 L662.71,196.33 L663.41,196.02 L664.12,195.70 L664.83,195.37 L665.54,195.03 L666.25,194.68 L666.96,194.32 L667.66,193.95 L668.37,193.57 L669.08,193.19 L669.79,192.80 L670.50,192.40 L671.21,191.99 L671.92,191.58 L672.62,191.17 L673.33,190.74 L674.04,190.32 L674.75,189.89 L675.46,189.46 L676.17,189.03 L676.87,188.59 L677.58,188.15 L678.29,187.72 L679.00,187.28" class="ci"/>
<path d="M576.98,207.61 L577.69,207.71 L578.40,207.82 L579.11,207.93 L579.83,208.03 L580.54,208.14 L581.25,208.25 L581.96,208.35 L582.67,208.46 L583.38,208.57 L584.09,208.68 L584.80,208.78 L585.51,208.89 L586.22,209.00 L586.93,209.10 L587.65,209.21 L588.36,209.32 L589.07,209.42 L589.78,209.53 L590.49,209.64 L591.20,209.74 L591.91,209.85 L592.62,209.95 L593.33,210.06 L594.04,210.17 L594.76,210.27 L595.47,210.38 L596.18,210.48 L596.89,210.59 L597.60,210.70 L598.31,210.80 L599.02,210.91 L599.73,211.01 L600.44,211.12 L601.15,211.22 L601.86,211.33 L602.58,211.43 L603.29,211.54 L604.00,211.64 L604.71,211.75 L605.42,211.85 L606.13,211.96 L606.84,212.06 L607.55,212.17 L608.26,212.28 L608.97,212.39 L609.68,212.49 L610.40,212.60 L611.11,212.71 L611.82,212.82 L612.53,212.94 L613.24,213.05 L613.95,213.17 L614.66,213.28 L615.37,213.40 L616.08,213.52 L616.79,213.64 L617.50,213.76 L618.22,213.89 L618.93,214.02 L619.64,214.14 L620.35,214.28 L621.06,214.41 L621.77,214.54 L622.48,214.68 L623.19,214.83 L623.90,214.97 L624.61,215.12 L625.33,215.27 L626.04,215.42 L626.75,215.58 L627.46,215.75 L628.17,215.91 L628.88,216.09 L629.59,216.26 L630.30,216.44 L631.01,216.63 L631.72,216.82 L632.43,217.01 L633.15,217.21 L633.86,217.41 L634.57,217.61 L635.28,217.81 L635.99,218.02 L636.70,218.22 L637.41,218.43 L638.12,218.63 L638.83,218.84 L639.54,219.04 L640.25,219.24 L640.97,219.43 L641.68,219.63 L642.39,219.82 L643.10,220.00 L643.81,220.19 L644.52,220.37 L645.23,220.55 L645.94,220.73 L646.65,220.91 L647.36,221.08 L648.07,221.25 L648.79,221.42 L649.50,221.59 L650.21,221.75 L650.92,221.91 L651.63,222.07 L652.34,222.23 L653.05,222.39 L653.76,222.54 L654.47,222.69 L655.18,222.84 L655.89,222.99 L656.61,223.14 L657.32,223.28 L658.03,223.43 L658.74,223.57 L659.45,223.72 L660.16,223.86 L660.87,224.00 L661.58,224.14 L662.29,224.28 L663.00,224.42 L663.72,224.56 L664.43,224.70" class="ci2"/>
<path d="M576.98,204.09 L577.69,204.24 L578.40,204.38 L579.11,204.52 L579.82,204.66 L580.52,204.80 L581.23,204.94 L581.94,205.09 L582.65,205.23 L583.36,205.37 L584.07,205.50 L584.78,205.64 L585.48,205.78 L586.19,205.92 L586.90,206.05 L587.61,206.19 L588.32,206.33 L589.03,206.46 L589.73,206.59 L590.44,206.72 L591.15,206.85 L591.86,206.98 L592.57,207.11 L593.28,207.24 L593.99,207.36 L594.69,207.49 L595.40,207.61 L596.11,207.73 L596.82,207.85 L597.53,207.97 L598.24,208.08 L598.94,208.20 L599.65,208.31 L600.36,208.42 L601.07,208.53 L601.78,208.64 L602.49,208.74 L603.19,208.84 L603.90,208.94 L604.61,209.04 L605.32,209.14 L606.03,209.23 L606.74,209.33 L607.45,209.42 L608.15,209.52 L608.86,209.61 L609.57,209.70 L610.28,209.80 L610.99,209.89 L611.70,209.99 L612.40,210.08 L613.11,210.18 L613.82,210.27 L614.53,210.37 L615.24,210.47 L615.95,210.58 L616.66,210.68 L617.36,210.79 L618.07,210.90 L618.78,211.01 L619.49,211.12 L620.20,211.24 L620.91,211.36 L621.61,211.49 L622.32,211.61 L623.03,211.74 L623.74,211.87 L624.45,212.01 L625.16,212.14 L625.87,212.27 L626.57,212.41 L627.28,212.54 L627.99,212.67 L628.70,212.80 L629.41,212.94 L630.12,213.07 L630.82,213.19 L631.53,213.32 L632.24,213.44 L632.95,213.56 L633.66,213.68 L634.37,213.80 L635.08,213.92 L635.78,214.04 L636.49,214.15 L637.20,214.26 L637.91,214.38 L638.62,214.49 L639.33,214.60 L640.03,214.71 L640.74,214.81 L641.45,214.92 L642.16,215.03 L642.87,215.13 L643.58,215.24 L644.29,215.34 L644.99,215.44 L645.70,215.55 L646.41,215.65 L647.12,215.75 L647.83,215.85 L648.54,215.95 L649.24,216.04 L649.95,216.14 L650.66,216.24 L651.37,216.33 L652.08,216.43 L652.79,216.52 L653.50,216.62 L654.20,216.71 L654.91,216.80 L655.62,216.88 L656.33,216.97 L657.04,217.05 L657.75,217.13 L658.45,217.21 L659.16,217.29 L659.87,217.36 L660.58,217.43 L661.29,217.50 L662.00,217.56 L662.71,217.63 L663.41,217.68 L664.12,217.74 L664.83,217.80 L665.54,217.85 L666.25,217.90 L666.96,217.95 L667.66,217.99 L668.37,218.04 L669.08,218.08 L669.79,218.12 L670.50,218.16 L671.21,218.20 L671.92,218.23 L672.62,218.27 L673.33,218.30 L674.04,218.34 L674.75,218.37 L675.46,218.40 L676.17,218.43 L676.87,218.46 L677.58,218.49 L678.29,218.53 L679.00,218.56" class="main"/>
</g>
<path d="M574.90,155.40V224.70H679.00M572.50,224.70H574.90M573.50,213.15H574.90M572.50,201.60H574.90M573.50,190.05H574.90M572.50,178.50H574.90M573.50,166.95H574.90M572.50,155.40H574.90M574.90,224.70V227.10M592.25,224.70V227.10M609.60,224.70V227.10M626.95,224.70V227.10M644.30,224.70V227.10M661.65,224.70V227.10M679.00,224.70V227.10M583.57,224.70V226.10M600.92,224.70V226.10M618.27,224.70V226.10M635.62,224.70V226.10M652.98,224.70V226.10M670.33,224.70V226.10" class="axis"/>
<text x="571.70" y="227.00" class="tl" text-anchor="end">0.00</text>
<text x="571.70" y="203.90" class="tl" text-anchor="end">0.05</text>
<text x="571.70" y="180.80" class="tl" text-anchor="end">0.10</text>
<text x="571.70" y="157.70" class="tl" text-anchor="end">0.15</text>
<text x="574.90" y="234.40" class="tl" text-anchor="middle">0</text>
<text x="592.25" y="234.40" class="tl" text-anchor="middle">100</text>
<text x="609.60" y="234.40" class="tl" text-anchor="middle">200</text>
<text x="626.95" y="234.40" class="tl" text-anchor="middle">300</text>
<text x="644.30" y="234.40" class="tl" text-anchor="middle">400</text>
<text x="661.65" y="234.40" class="tl" text-anchor="middle">500</text>
<text x="679.00" y="234.40" class="tl" text-anchor="middle">600</text>
<text x="627.15" y="243.50" class="xt" style="font-size:6.60px" text-anchor="middle">Triglyceride, mg/dL</text>
<text transform="translate(546.10,189.95) rotate(-90)" class="yt" text-anchor="middle">Probability of</text>
<text transform="translate(554.30,189.95) rotate(-90)" class="yt" text-anchor="middle">cardiovascular mortality</text>
<path d="M36.00,344.05H139.40M36.00,332.40H139.40M36.00,320.75H139.40M36.00,309.10H139.40M36.00,297.45H139.40M36.00,285.80H139.40" class="grid"/>
<clipPath id="clip20"><rect x="35.50" y="285.30" width="104.90" height="70.40"/></clipPath>
<g clip-path="url(#clip20)">
<path d="M35.50,327.27 L36.21,327.87 L36.91,328.47 L37.62,329.06 L38.33,329.66 L39.03,330.25 L39.74,330.83 L40.45,331.41 L41.15,331.98 L41.86,332.54 L42.57,333.10 L43.27,333.65 L43.98,334.18 L44.69,334.71 L45.40,335.22 L46.10,335.72 L46.81,336.21 L47.52,336.68 L48.22,337.14 L48.93,337.58 L49.64,338.00 L50.34,338.40 L51.05,338.78 L51.76,339.15 L52.46,339.49 L53.17,339.81 L53.88,340.11 L54.58,340.39 L55.29,340.66 L56.00,340.90 L56.70,341.14 L57.41,341.35 L58.12,341.55 L58.82,341.74 L59.53,341.91 L60.24,342.08 L60.94,342.23 L61.65,342.37 L62.36,342.50 L63.07,342.62 L63.77,342.74 L64.48,342.85 L65.19,342.95 L65.89,343.05 L66.60,343.14 L67.31,343.23 L68.01,343.32 L68.72,343.40 L69.43,343.49 L70.13,343.57 L70.84,343.66 L71.55,343.74 L72.25,343.83 L72.96,343.91 L73.67,343.99 L74.37,344.07 L75.08,344.15 L75.79,344.23 L76.49,344.31 L77.20,344.38 L77.91,344.45 L78.61,344.52 L79.32,344.59 L80.03,344.65 L80.74,344.71 L81.44,344.77 L82.15,344.82 L82.86,344.87 L83.56,344.92 L84.27,344.96 L84.98,344.99 L85.68,345.03 L86.39,345.05 L87.10,345.08 L87.80,345.09 L88.51,345.10 L89.22,345.11 L89.92,345.11 L90.63,345.11 L91.34,345.11 L92.04,345.10 L92.75,345.09 L93.46,345.07 L94.16,345.05 L94.87,345.03 L95.58,345.01 L96.29,344.99 L96.99,344.96 L97.70,344.93 L98.41,344.91 L99.11,344.88 L99.82,344.85 L100.53,344.82 L101.23,344.79 L101.94,344.76 L102.65,344.73 L103.35,344.71 L104.06,344.68 L104.77,344.66 L105.47,344.63 L106.18,344.61 L106.89,344.59 L107.59,344.57 L108.30,344.55 L109.01,344.53 L109.71,344.50 L110.42,344.48 L111.13,344.45 L111.83,344.41 L112.54,344.37 L113.25,344.33 L113.96,344.28 L114.66,344.23 L115.37,344.17 L116.08,344.10 L116.78,344.02 L117.49,343.94 L118.20,343.84 L118.90,343.74 L119.61,343.63 L120.32,343.50 L121.02,343.36 L121.73,343.21 L122.44,343.05 L123.14,342.87 L123.85,342.68 L124.56,342.48 L125.26,342.26 L125.97,342.02 L126.68,341.77 L127.38,341.50 L128.09,341.21 L128.80,340.90 L129.50,340.58 L130.21,340.24 L130.92,339.88 L131.63,339.51 L132.33,339.13 L133.04,338.73 L133.75,338.32 L134.45,337.91 L135.16,337.48 L135.87,337.05 L136.57,336.61 L137.28,336.17 L137.99,335.72 L138.69,335.27 L139.40,334.82" class="ci"/>
<path d="M35.50,338.18 L36.21,338.32 L36.91,338.45 L37.62,338.59 L38.33,338.72 L39.03,338.86 L39.74,338.99 L40.45,339.13 L41.15,339.26 L41.86,339.40 L42.57,339.53 L43.27,339.66 L43.98,339.79 L44.69,339.92 L45.40,340.04 L46.10,340.17 L46.81,340.29 L47.52,340.42 L48.22,340.54 L48.93,340.66 L49.64,340.77 L50.34,340.89 L51.05,341.00 L51.76,341.11 L52.46,341.22 L53.17,341.32 L53.88,341.43 L54.58,341.53 L55.29,341.63 L56.00,341.73 L56.70,341.83 L57.41,341.93 L58.12,342.03 L58.82,342.13 L59.53,342.23 L60.24,342.33 L60.94,342.43 L61.65,342.54 L62.36,342.64 L63.07,342.75 L63.77,342.86 L64.48,342.97 L65.19,343.09 L65.89,343.21 L66.60,343.33 L67.31,343.46 L68.01,343.59 L68.72,343.72 L69.43,343.86 L70.13,344.01 L70.84,344.15 L71.55,344.31 L72.25,344.46 L72.96,344.63 L73.67,344.79 L74.37,344.96 L75.08,345.12 L75.79,345.30 L76.49,345.47 L77.20,345.64 L77.91,345.82 L78.61,345.99 L79.32,346.17 L80.03,346.35 L80.74,346.52 L81.44,346.69 L82.15,346.87 L82.86,347.04 L83.56,347.21 L84.27,347.37 L84.98,347.54 L85.68,347.70 L86.39,347.86 L87.10,348.01 L87.80,348.16 L88.51,348.30 L89.22,348.44 L89.92,348.58 L90.63,348.71 L91.34,348.84 L92.04,348.96 L92.75,349.08 L93.46,349.19 L94.16,349.30 L94.87,349.41 L95.58,349.51 L96.29,349.60 L96.99,349.70 L97.70,349.78 L98.41,349.86 L99.11,349.94 L99.82,350.01 L100.53,350.08 L101.23,350.14 L101.94,350.20 L102.65,350.26 L103.35,350.30 L104.06,350.35 L104.77,350.39 L105.47,350.42 L106.18,350.45 L106.89,350.48 L107.59,350.50 L108.30,350.52 L109.01,350.53 L109.71,350.55 L110.42,350.56 L111.13,350.57 L111.83,350.58 L112.54,350.59 L113.25,350.60 L113.96,350.61 L114.66,350.63 L115.37,350.64 L116.08,350.65 L116.78,350.67 L117.49,350.69 L118.20,350.71 L118.90,350.74 L119.61,350.77 L120.32,350.81 L121.02,350.85 L121.73,350.90 L122.44,350.95 L123.14,351.01 L123.85,351.07 L124.56,351.14 L125.26,351.22 L125.97,351.30 L126.68,351.39 L127.38,351.48 L128.09,351.57 L128.80,351.67 L129.50,351.78 L130.21,351.89 L130.92,352.00 L131.63,352.11 L132.33,352.23 L133.04,352.35 L133.75,352.47 L134.45,352.60 L135.16,352.72 L135.87,352.85 L136.57,352.98 L137.28,353.11 L137.99,353.25 L138.69,353.38 L139.40,353.51" class="ci2"/>
<path d="M35.50,332.87 L36.21,333.22 L36.91,333.58 L37.62,333.94 L38.33,334.29 L39.03,334.65 L39.74,335.00 L40.45,335.35 L41.15,335.69 L41.86,336.03 L42.57,336.37 L43.27,336.70 L43.98,337.03 L44.69,337.35 L45.40,337.66 L46.10,337.97 L46.81,338.27 L47.52,338.56 L48.22,338.85 L48.93,339.12 L49.64,339.39 L50.34,339.65 L51.05,339.89 L51.76,340.13 L52.46,340.35 L53.17,340.57 L53.88,340.77 L54.58,340.97 L55.29,341.15 L56.00,341.33 L56.70,341.49 L57.41,341.66 L58.12,341.81 L58.82,341.95 L59.53,342.09 L60.24,342.23 L60.94,342.36 L61.65,342.48 L62.36,342.60 L63.07,342.72 L63.77,342.83 L64.48,342.94 L65.19,343.05 L65.89,343.16 L66.60,343.26 L67.31,343.36 L68.01,343.47 L68.72,343.57 L69.43,343.68 L70.13,343.78 L70.84,343.89 L71.55,343.99 L72.25,344.10 L72.96,344.21 L73.67,344.32 L74.37,344.43 L75.08,344.54 L75.79,344.65 L76.49,344.75 L77.20,344.86 L77.91,344.97 L78.61,345.08 L79.32,345.18 L80.03,345.29 L80.74,345.39 L81.44,345.49 L82.15,345.59 L82.86,345.69 L83.56,345.79 L84.27,345.88 L84.98,345.98 L85.68,346.07 L86.39,346.15 L87.10,346.24 L87.80,346.32 L88.51,346.40 L89.22,346.48 L89.92,346.55 L90.63,346.62 L91.34,346.69 L92.04,346.76 L92.75,346.82 L93.46,346.88 L94.16,346.94 L94.87,347.00 L95.58,347.06 L96.29,347.11 L96.99,347.16 L97.70,347.21 L98.41,347.26 L99.11,347.31 L99.82,347.36 L100.53,347.40 L101.23,347.44 L101.94,347.48 L102.65,347.52 L103.35,347.56 L104.06,347.60 L104.77,347.64 L105.47,347.67 L106.18,347.71 L106.89,347.74 L107.59,347.78 L108.30,347.81 L109.01,347.84 L109.71,347.87 L110.42,347.90 L111.13,347.93 L111.83,347.96 L112.54,347.99 L113.25,348.01 L113.96,348.04 L114.66,348.06 L115.37,348.08 L116.08,348.10 L116.78,348.12 L117.49,348.14 L118.20,348.16 L118.90,348.18 L119.61,348.19 L120.32,348.21 L121.02,348.22 L121.73,348.23 L122.44,348.24 L123.14,348.25 L123.85,348.26 L124.56,348.27 L125.26,348.27 L125.97,348.28 L126.68,348.28 L127.38,348.29 L128.09,348.29 L128.80,348.29 L129.50,348.29 L130.21,348.29 L130.92,348.29 L131.63,348.29 L132.33,348.29 L133.04,348.28 L133.75,348.28 L134.45,348.28 L135.16,348.27 L135.87,348.27 L136.57,348.26 L137.28,348.26 L137.99,348.25 L138.69,348.25 L139.40,348.24" class="main"/>
</g>
<path d="M35.50,285.80V355.70H139.40M33.10,355.70H35.50M34.10,344.05H35.50M33.10,332.40H35.50M34.10,320.75H35.50M33.10,309.10H35.50M34.10,297.45H35.50M33.10,285.80H35.50M35.50,355.70V358.10M70.13,355.70V358.10M104.77,355.70V358.10M139.40,355.70V358.10M52.82,355.70V357.10M87.45,355.70V357.10M122.08,355.70V357.10" class="axis"/>
<text x="32.30" y="358.00" class="tl" text-anchor="end">0.00</text>
<text x="32.30" y="334.70" class="tl" text-anchor="end">0.05</text>
<text x="32.30" y="311.40" class="tl" text-anchor="end">0.10</text>
<text x="32.30" y="288.10" class="tl" text-anchor="end">0.15</text>
<text x="35.50" y="365.50" class="tl" text-anchor="middle">0</text>
<text x="70.13" y="365.50" class="tl" text-anchor="middle">100</text>
<text x="104.77" y="365.50" class="tl" text-anchor="middle">200</text>
<text x="139.40" y="365.50" class="tl" text-anchor="middle">300</text>
<text x="87.70" y="374.50" class="xt" style="font-size:6.90px" text-anchor="middle">LDL-C, mg/dL</text>
<text transform="translate(6.70,320.85) rotate(-90)" class="yt" text-anchor="middle">Probability of</text>
<text transform="translate(14.90,320.85) rotate(-90)" class="yt" text-anchor="middle">noncardiovascular mortality</text>
<path d="M214.90,342.05H315.30M214.90,330.70H315.30M214.90,319.35H315.30M214.90,308.00H315.30M214.90,296.65H315.30M214.90,285.30H315.30" class="grid"/>
<clipPath id="clip21"><rect x="214.40" y="284.80" width="101.90" height="68.60"/></clipPath>
<g clip-path="url(#clip21)">
<path d="M216.56,323.07 L217.27,324.30 L217.97,325.51 L218.68,326.71 L219.38,327.87 L220.09,329.00 L220.79,330.08 L221.50,331.10 L222.20,332.05 L222.91,332.93 L223.61,333.71 L224.32,334.42 L225.03,335.06 L225.73,335.62 L226.44,336.13 L227.14,336.57 L227.85,336.96 L228.55,337.31 L229.26,337.62 L229.96,337.90 L230.67,338.15 L231.37,338.37 L232.08,338.58 L232.78,338.78 L233.49,338.97 L234.19,339.15 L234.90,339.33 L235.60,339.50 L236.31,339.67 L237.01,339.82 L237.72,339.97 L238.43,340.10 L239.13,340.23 L239.84,340.35 L240.54,340.45 L241.25,340.55 L241.95,340.63 L242.66,340.70 L243.36,340.76 L244.07,340.81 L244.77,340.85 L245.48,340.87 L246.18,340.89 L246.89,340.90 L247.59,340.90 L248.30,340.88 L249.00,340.87 L249.71,340.84 L250.42,340.81 L251.12,340.77 L251.83,340.72 L252.53,340.67 L253.24,340.62 L253.94,340.56 L254.65,340.49 L255.35,340.42 L256.06,340.35 L256.76,340.28 L257.47,340.20 L258.17,340.12 L258.88,340.04 L259.58,339.96 L260.29,339.88 L260.99,339.80 L261.70,339.72 L262.40,339.64 L263.11,339.56 L263.82,339.48 L264.52,339.40 L265.23,339.32 L265.93,339.23 L266.64,339.14 L267.34,339.05 L268.05,338.96 L268.75,338.86 L269.46,338.76 L270.16,338.65 L270.87,338.54 L271.57,338.41 L272.28,338.29 L272.98,338.15 L273.69,338.01 L274.39,337.86 L275.10,337.70 L275.80,337.54 L276.51,337.38 L277.22,337.21 L277.92,337.04 L278.63,336.87 L279.33,336.70 L280.04,336.53 L280.74,336.36 L281.45,336.19 L282.15,336.02 L282.86,335.85 L283.56,335.68 L284.27,335.51 L284.97,335.34 L285.68,335.16 L286.38,334.98 L287.09,334.80 L287.79,334.60 L288.50,334.40 L289.20,334.19 L289.91,333.97 L290.62,333.74 L291.32,333.49 L292.03,333.24 L292.73,332.97 L293.44,332.68 L294.14,332.39 L294.85,332.09 L295.55,331.77 L296.26,331.45 L296.96,331.12 L297.67,330.78 L298.37,330.44 L299.08,330.09 L299.78,329.74 L300.49,329.39 L301.19,329.03 L301.90,328.67 L302.61,328.31 L303.31,327.95 L304.02,327.59 L304.72,327.22 L305.43,326.86 L306.13,326.50 L306.84,326.13 L307.54,325.77 L308.25,325.40 L308.95,325.03 L309.66,324.66 L310.36,324.30 L311.07,323.93 L311.77,323.56 L312.48,323.19 L313.18,322.82 L313.89,322.45 L314.59,322.08 L315.30,321.71" class="ci"/>
<path d="M216.56,335.78 L217.27,336.06 L217.97,336.34 L218.68,336.61 L219.38,336.88 L220.09,337.15 L220.79,337.41 L221.50,337.67 L222.20,337.93 L222.91,338.17 L223.61,338.41 L224.32,338.64 L225.03,338.87 L225.73,339.08 L226.44,339.29 L227.14,339.48 L227.85,339.67 L228.55,339.85 L229.26,340.02 L229.96,340.18 L230.67,340.33 L231.37,340.47 L232.08,340.60 L232.78,340.71 L233.49,340.82 L234.19,340.91 L234.90,341.00 L235.60,341.08 L236.31,341.15 L237.01,341.21 L237.72,341.27 L238.43,341.33 L239.13,341.38 L239.84,341.44 L240.54,341.49 L241.25,341.54 L241.95,341.60 L242.66,341.65 L243.36,341.71 L244.07,341.78 L244.77,341.84 L245.48,341.91 L246.18,341.98 L246.89,342.06 L247.59,342.13 L248.30,342.21 L249.00,342.28 L249.71,342.36 L250.42,342.44 L251.12,342.51 L251.83,342.59 L252.53,342.66 L253.24,342.74 L253.94,342.81 L254.65,342.88 L255.35,342.95 L256.06,343.02 L256.76,343.09 L257.47,343.16 L258.17,343.23 L258.88,343.29 L259.58,343.36 L260.29,343.43 L260.99,343.50 L261.70,343.56 L262.40,343.63 L263.11,343.70 L263.82,343.76 L264.52,343.83 L265.23,343.90 L265.93,343.97 L266.64,344.03 L267.34,344.10 L268.05,344.17 L268.75,344.25 L269.46,344.32 L270.16,344.39 L270.87,344.46 L271.57,344.54 L272.28,344.62 L272.98,344.69 L273.69,344.77 L274.39,344.85 L275.10,344.94 L275.80,345.02 L276.51,345.10 L277.22,345.19 L277.92,345.28 L278.63,345.36 L279.33,345.45 L280.04,345.54 L280.74,345.63 L281.45,345.73 L282.15,345.82 L282.86,345.91 L283.56,346.01 L284.27,346.10 L284.97,346.20 L285.68,346.30 L286.38,346.40 L287.09,346.50 L287.79,346.60 L288.50,346.70 L289.20,346.80 L289.91,346.90 L290.62,347.00 L291.32,347.11 L292.03,347.21 L292.73,347.31 L293.44,347.42 L294.14,347.53 L294.85,347.63 L295.55,347.74 L296.26,347.85 L296.96,347.95 L297.67,348.06 L298.37,348.17 L299.08,348.28 L299.78,348.39 L300.49,348.50 L301.19,348.61 L301.90,348.72 L302.61,348.83 L303.31,348.94 L304.02,349.05 L304.72,349.16 L305.43,349.27 L306.13,349.39 L306.84,349.50 L307.54,349.61 L308.25,349.72 L308.95,349.84 L309.66,349.95 L310.36,350.06 L311.07,350.18 L311.77,350.29 L312.48,350.40 L313.18,350.52 L313.89,350.63 L314.59,350.74 L315.30,350.86" class="ci2"/>
<path d="M216.56,330.52 L217.27,331.23 L217.97,331.94 L218.68,332.63 L219.38,333.31 L220.09,333.96 L220.79,334.59 L221.50,335.18 L222.20,335.74 L222.91,336.25 L223.61,336.71 L224.32,337.12 L225.03,337.49 L225.73,337.82 L226.44,338.12 L227.14,338.38 L227.85,338.62 L228.55,338.82 L229.26,339.01 L229.96,339.17 L230.67,339.32 L231.37,339.46 L232.08,339.59 L232.78,339.72 L233.49,339.84 L234.19,339.95 L234.90,340.07 L235.60,340.18 L236.31,340.28 L237.01,340.39 L237.72,340.49 L238.43,340.58 L239.13,340.67 L239.84,340.76 L240.54,340.84 L241.25,340.92 L241.95,341.00 L242.66,341.07 L243.36,341.13 L244.07,341.19 L244.77,341.24 L245.48,341.29 L246.18,341.34 L246.89,341.39 L247.59,341.43 L248.30,341.46 L249.00,341.50 L249.71,341.53 L250.42,341.56 L251.12,341.59 L251.83,341.62 L252.53,341.65 L253.24,341.68 L253.94,341.70 L254.65,341.73 L255.35,341.75 L256.06,341.78 L256.76,341.80 L257.47,341.82 L258.17,341.84 L258.88,341.86 L259.58,341.88 L260.29,341.90 L260.99,341.92 L261.70,341.93 L262.40,341.95 L263.11,341.96 L263.82,341.98 L264.52,341.99 L265.23,342.00 L265.93,342.01 L266.64,342.02 L267.34,342.03 L268.05,342.03 L268.75,342.04 L269.46,342.04 L270.16,342.05 L270.87,342.05 L271.57,342.05 L272.28,342.05 L272.98,342.05 L273.69,342.05 L274.39,342.04 L275.10,342.04 L275.80,342.03 L276.51,342.03 L277.22,342.02 L277.92,342.02 L278.63,342.01 L279.33,342.01 L280.04,342.00 L280.74,342.00 L281.45,341.99 L282.15,341.99 L282.86,341.98 L283.56,341.98 L284.27,341.98 L284.97,341.98 L285.68,341.98 L286.38,341.98 L287.09,341.98 L287.79,341.99 L288.50,342.00 L289.20,342.01 L289.91,342.02 L290.62,342.03 L291.32,342.05 L292.03,342.06 L292.73,342.08 L293.44,342.11 L294.14,342.13 L294.85,342.16 L295.55,342.19 L296.26,342.22 L296.96,342.25 L297.67,342.29 L298.37,342.33 L299.08,342.37 L299.78,342.41 L300.49,342.45 L301.19,342.49 L301.90,342.54 L302.61,342.59 L303.31,342.64 L304.02,342.69 L304.72,342.74 L305.43,342.79 L306.13,342.84 L306.84,342.90 L307.54,342.95 L308.25,343.01 L308.95,343.06 L309.66,343.12 L310.36,343.18 L311.07,343.24 L311.77,343.30 L312.48,343.35 L313.18,343.41 L313.89,343.47 L314.59,343.53 L315.30,343.59" class="main"/>
</g>
<path d="M214.40,285.30V353.40H315.30M212.00,353.40H214.40M213.00,342.05H214.40M212.00,330.70H214.40M213.00,319.35H214.40M212.00,308.00H214.40M213.00,296.65H214.40M212.00,285.30H214.40M214.40,353.40V355.80M243.23,353.40V355.80M272.06,353.40V355.80M300.89,353.40V355.80M228.81,353.40V354.80M257.64,353.40V354.80M286.47,353.40V354.80M315.30,353.40V354.80" class="axis"/>
<text x="211.20" y="355.70" class="tl" text-anchor="end">0.00</text>
<text x="211.20" y="333.00" class="tl" text-anchor="end">0.05</text>
<text x="211.20" y="310.30" class="tl" text-anchor="end">0.10</text>
<text x="211.20" y="287.60" class="tl" text-anchor="end">0.15</text>
<text x="214.40" y="363.20" class="tl" text-anchor="middle">0</text>
<text x="243.23" y="363.20" class="tl" text-anchor="middle">40</text>
<text x="272.06" y="363.20" class="tl" text-anchor="middle">80</text>
<text x="300.89" y="363.20" class="tl" text-anchor="middle">120</text>
<text x="265.05" y="372.00" class="xt" style="font-size:6.70px" text-anchor="middle">HDL-C, mg/dL</text>
<text transform="translate(185.60,319.45) rotate(-90)" class="yt" text-anchor="middle">Probability of</text>
<text transform="translate(193.80,319.45) rotate(-90)" class="yt" text-anchor="middle">noncardiovascular mortality</text>
<path d="M395.90,343.78H499.50M395.90,332.27H499.50M395.90,320.75H499.50M395.90,309.23H499.50M395.90,297.72H499.50M395.90,286.20H499.50" class="grid"/>
<clipPath id="clip22"><rect x="395.40" y="285.70" width="105.10" height="69.60"/></clipPath>
<g clip-path="url(#clip22)">
<path d="M400.60,317.89 L401.31,319.10 L402.02,320.31 L402.72,321.49 L403.43,322.66 L404.14,323.81 L404.84,324.92 L405.55,325.99 L406.26,327.01 L406.96,327.99 L407.67,328.92 L408.38,329.81 L409.08,330.65 L409.79,331.46 L410.49,332.22 L411.20,332.95 L411.91,333.64 L412.61,334.30 L413.32,334.92 L414.03,335.51 L414.73,336.08 L415.44,336.61 L416.15,337.12 L416.85,337.61 L417.56,338.06 L418.26,338.50 L418.97,338.92 L419.68,339.31 L420.38,339.69 L421.09,340.05 L421.80,340.39 L422.50,340.72 L423.21,341.03 L423.92,341.33 L424.62,341.62 L425.33,341.90 L426.04,342.16 L426.74,342.42 L427.45,342.66 L428.15,342.88 L428.86,343.09 L429.57,343.29 L430.27,343.48 L430.98,343.65 L431.69,343.81 L432.39,343.95 L433.10,344.07 L433.81,344.18 L434.51,344.28 L435.22,344.36 L435.92,344.43 L436.63,344.49 L437.34,344.54 L438.04,344.58 L438.75,344.61 L439.46,344.64 L440.16,344.66 L440.87,344.67 L441.58,344.69 L442.28,344.70 L442.99,344.70 L443.69,344.71 L444.40,344.72 L445.11,344.73 L445.81,344.73 L446.52,344.74 L447.23,344.75 L447.93,344.75 L448.64,344.75 L449.35,344.75 L450.05,344.75 L450.76,344.74 L451.47,344.73 L452.17,344.72 L452.88,344.70 L453.58,344.69 L454.29,344.66 L455.00,344.64 L455.70,344.60 L456.41,344.57 L457.12,344.53 L457.82,344.49 L458.53,344.45 L459.24,344.40 L459.94,344.35 L460.65,344.30 L461.35,344.24 L462.06,344.18 L462.77,344.11 L463.47,344.05 L464.18,343.98 L464.89,343.90 L465.59,343.83 L466.30,343.74 L467.01,343.66 L467.71,343.56 L468.42,343.46 L469.13,343.36 L469.83,343.25 L470.54,343.13 L471.24,343.00 L471.95,342.86 L472.66,342.72 L473.36,342.57 L474.07,342.41 L474.78,342.24 L475.48,342.07 L476.19,341.89 L476.90,341.70 L477.60,341.51 L478.31,341.32 L479.01,341.12 L479.72,340.92 L480.43,340.72 L481.13,340.52 L481.84,340.31 L482.55,340.11 L483.25,339.91 L483.96,339.71 L484.67,339.50 L485.37,339.29 L486.08,339.08 L486.78,338.86 L487.49,338.64 L488.20,338.40 L488.90,338.16 L489.61,337.90 L490.32,337.63 L491.02,337.34 L491.73,337.04 L492.44,336.72 L493.14,336.39 L493.85,336.04 L494.56,335.67 L495.26,335.29 L495.97,334.91 L496.67,334.51 L497.38,334.10 L498.09,333.69 L498.79,333.28 L499.50,332.87" class="ci"/>
<path d="M400.60,339.78 L401.31,339.75 L402.02,339.73 L402.72,339.70 L403.43,339.68 L404.14,339.67 L404.84,339.65 L405.55,339.64 L406.26,339.64 L406.96,339.65 L407.67,339.66 L408.38,339.67 L409.08,339.70 L409.79,339.74 L410.49,339.78 L411.20,339.84 L411.91,339.91 L412.61,339.99 L413.32,340.08 L414.03,340.19 L414.73,340.32 L415.44,340.45 L416.15,340.60 L416.85,340.76 L417.56,340.93 L418.26,341.12 L418.97,341.31 L419.68,341.51 L420.38,341.72 L421.09,341.94 L421.80,342.16 L422.50,342.39 L423.21,342.62 L423.92,342.86 L424.62,343.11 L425.33,343.35 L426.04,343.60 L426.74,343.85 L427.45,344.10 L428.15,344.35 L428.86,344.60 L429.57,344.85 L430.27,345.09 L430.98,345.33 L431.69,345.57 L432.39,345.80 L433.10,346.03 L433.81,346.25 L434.51,346.46 L435.22,346.67 L435.92,346.87 L436.63,347.06 L437.34,347.25 L438.04,347.44 L438.75,347.62 L439.46,347.80 L440.16,347.97 L440.87,348.15 L441.58,348.32 L442.28,348.48 L442.99,348.65 L443.69,348.81 L444.40,348.97 L445.11,349.13 L445.81,349.28 L446.52,349.44 L447.23,349.59 L447.93,349.74 L448.64,349.88 L449.35,350.02 L450.05,350.15 L450.76,350.29 L451.47,350.41 L452.17,350.53 L452.88,350.65 L453.58,350.76 L454.29,350.87 L455.00,350.97 L455.70,351.06 L456.41,351.15 L457.12,351.24 L457.82,351.32 L458.53,351.40 L459.24,351.47 L459.94,351.54 L460.65,351.61 L461.35,351.67 L462.06,351.73 L462.77,351.79 L463.47,351.84 L464.18,351.89 L464.89,351.94 L465.59,351.99 L466.30,352.04 L467.01,352.08 L467.71,352.12 L468.42,352.16 L469.13,352.20 L469.83,352.24 L470.54,352.28 L471.24,352.32 L471.95,352.36 L472.66,352.40 L473.36,352.44 L474.07,352.48 L474.78,352.52 L475.48,352.55 L476.19,352.59 L476.90,352.63 L477.60,352.67 L478.31,352.71 L479.01,352.75 L479.72,352.79 L480.43,352.83 L481.13,352.87 L481.84,352.92 L482.55,352.96 L483.25,353.00 L483.96,353.04 L484.67,353.08 L485.37,353.12 L486.08,353.16 L486.78,353.20 L487.49,353.25 L488.20,353.29 L488.90,353.33 L489.61,353.37 L490.32,353.41 L491.02,353.46 L491.73,353.50 L492.44,353.54 L493.14,353.58 L493.85,353.62 L494.56,353.67 L495.26,353.71 L495.97,353.75 L496.67,353.79 L497.38,353.84 L498.09,353.88 L498.79,353.92 L499.50,353.96" class="ci2"/>
<path d="M400.60,330.33 L401.31,330.90 L402.02,331.46 L402.72,332.02 L403.43,332.56 L404.14,333.08 L404.84,333.59 L405.55,334.08 L406.26,334.53 L406.96,334.96 L407.67,335.37 L408.38,335.75 L409.08,336.11 L409.79,336.46 L410.49,336.79 L411.20,337.11 L411.91,337.43 L412.61,337.73 L413.32,338.04 L414.03,338.34 L414.73,338.64 L415.44,338.95 L416.15,339.25 L416.85,339.55 L417.56,339.84 L418.26,340.14 L418.97,340.43 L419.68,340.71 L420.38,340.99 L421.09,341.26 L421.80,341.52 L422.50,341.78 L423.21,342.02 L423.92,342.26 L424.62,342.49 L425.33,342.70 L426.04,342.91 L426.74,343.11 L427.45,343.30 L428.15,343.49 L428.86,343.67 L429.57,343.84 L430.27,344.01 L430.98,344.18 L431.69,344.34 L432.39,344.50 L433.10,344.66 L433.81,344.82 L434.51,344.97 L435.22,345.13 L435.92,345.28 L436.63,345.43 L437.34,345.58 L438.04,345.73 L438.75,345.87 L439.46,346.01 L440.16,346.15 L440.87,346.28 L441.58,346.42 L442.28,346.54 L442.99,346.67 L443.69,346.79 L444.40,346.91 L445.11,347.02 L445.81,347.13 L446.52,347.24 L447.23,347.34 L447.93,347.45 L448.64,347.54 L449.35,347.64 L450.05,347.73 L450.76,347.82 L451.47,347.90 L452.17,347.99 L452.88,348.07 L453.58,348.15 L454.29,348.22 L455.00,348.30 L455.70,348.37 L456.41,348.44 L457.12,348.51 L457.82,348.57 L458.53,348.64 L459.24,348.70 L459.94,348.76 L460.65,348.82 L461.35,348.88 L462.06,348.93 L462.77,348.99 L463.47,349.04 L464.18,349.09 L464.89,349.14 L465.59,349.19 L466.30,349.24 L467.01,349.29 L467.71,349.33 L468.42,349.38 L469.13,349.42 L469.83,349.47 L470.54,349.51 L471.24,349.55 L471.95,349.59 L472.66,349.63 L473.36,349.68 L474.07,349.72 L474.78,349.76 L475.48,349.80 L476.19,349.84 L476.90,349.88 L477.60,349.91 L478.31,349.95 L479.01,349.99 L479.72,350.03 L480.43,350.07 L481.13,350.10 L481.84,350.14 L482.55,350.18 L483.25,350.22 L483.96,350.25 L484.67,350.29 L485.37,350.32 L486.08,350.36 L486.78,350.40 L487.49,350.43 L488.20,350.47 L488.90,350.50 L489.61,350.54 L490.32,350.57 L491.02,350.61 L491.73,350.64 L492.44,350.68 L493.14,350.71 L493.85,350.74 L494.56,350.78 L495.26,350.81 L495.97,350.85 L496.67,350.88 L497.38,350.91 L498.09,350.95 L498.79,350.98 L499.50,351.02" class="main"/>
</g>
<path d="M395.40,286.20V355.30H499.50M393.00,355.30H395.40M394.00,343.78H395.40M393.00,332.27H395.40M394.00,320.75H395.40M393.00,309.23H395.40M394.00,297.72H395.40M393.00,286.20H395.40M395.40,355.30V357.70M416.22,355.30V357.70M437.04,355.30V357.70M457.86,355.30V357.70M478.68,355.30V357.70M499.50,355.30V357.70M405.81,355.30V356.70M426.63,355.30V356.70M447.45,355.30V356.70M468.27,355.30V356.70M489.09,355.30V356.70" class="axis"/>
<text x="392.20" y="357.60" class="tl" text-anchor="end">0.00</text>
<text x="392.20" y="334.57" class="tl" text-anchor="end">0.05</text>
<text x="392.20" y="311.53" class="tl" text-anchor="end">0.10</text>
<text x="392.20" y="288.50" class="tl" text-anchor="end">0.15</text>
<text x="395.40" y="365.40" class="tl" text-anchor="middle">0</text>
<text x="416.22" y="365.40" class="tl" text-anchor="middle">100</text>
<text x="437.04" y="365.40" class="tl" text-anchor="middle">200</text>
<text x="457.86" y="365.40" class="tl" text-anchor="middle">300</text>
<text x="478.68" y="365.40" class="tl" text-anchor="middle">400</text>
<text x="499.50" y="365.40" class="tl" text-anchor="middle">500</text>
<text x="447.60" y="373.40" class="xt" style="font-size:6.65px" text-anchor="middle">Total cholesterol, mg/dL</text>
<text transform="translate(366.60,320.85) rotate(-90)" class="yt" text-anchor="middle">Probability of</text>
<text transform="translate(374.80,320.85) rotate(-90)" class="yt" text-anchor="middle">noncardiovascular mortality</text>
<path d="M574.90,343.12H677.40M574.90,331.73H677.40M574.90,320.35H677.40M574.90,308.97H677.40M574.90,297.58H677.40M574.90,286.20H677.40" class="grid"/>
<clipPath id="clip23"><rect x="574.40" y="285.70" width="104.00" height="68.80"/></clipPath>
<g clip-path="url(#clip23)">
<path d="M576.46,337.20 L577.17,337.62 L577.87,338.05 L578.58,338.46 L579.28,338.87 L579.99,339.27 L580.70,339.65 L581.40,340.02 L582.11,340.37 L582.81,340.69 L583.52,340.99 L584.22,341.26 L584.93,341.50 L585.64,341.73 L586.34,341.92 L587.05,342.10 L587.75,342.24 L588.46,342.37 L589.17,342.47 L589.87,342.55 L590.58,342.61 L591.28,342.65 L591.99,342.67 L592.70,342.66 L593.40,342.63 L594.11,342.59 L594.81,342.53 L595.52,342.45 L596.22,342.36 L596.93,342.25 L597.64,342.13 L598.34,342.00 L599.05,341.86 L599.75,341.71 L600.46,341.56 L601.17,341.40 L601.87,341.24 L602.58,341.08 L603.28,340.91 L603.99,340.74 L604.69,340.57 L605.40,340.39 L606.11,340.20 L606.81,340.01 L607.52,339.81 L608.22,339.60 L608.93,339.38 L609.64,339.15 L610.34,338.91 L611.05,338.65 L611.75,338.38 L612.46,338.09 L613.17,337.78 L613.87,337.46 L614.58,337.13 L615.28,336.79 L615.99,336.44 L616.69,336.08 L617.40,335.72 L618.11,335.35 L618.81,334.99 L619.52,334.63 L620.22,334.27 L620.93,333.92 L621.64,333.57 L622.34,333.23 L623.05,332.89 L623.75,332.56 L624.46,332.23 L625.17,331.90 L625.87,331.58 L626.58,331.27 L627.28,330.95 L627.99,330.64 L628.69,330.34 L629.40,330.04 L630.11,329.74 L630.81,329.44 L631.52,329.15 L632.22,328.86 L632.93,328.57 L633.64,328.28 L634.34,328.00 L635.05,327.72 L635.75,327.44 L636.46,327.16 L637.17,326.88 L637.87,326.60 L638.58,326.32 L639.28,326.04 L639.99,325.76 L640.69,325.48 L641.40,325.20 L642.11,324.92 L642.81,324.63 L643.52,324.34 L644.22,324.06 L644.93,323.76 L645.64,323.47 L646.34,323.17 L647.05,322.87 L647.75,322.57 L648.46,322.26 L649.17,321.95 L649.87,321.64 L650.58,321.33 L651.28,321.01 L651.99,320.68 L652.69,320.36 L653.40,320.03 L654.11,319.69 L654.81,319.36 L655.52,319.02 L656.22,318.67 L656.93,318.32 L657.64,317.97 L658.34,317.61 L659.05,317.24 L659.75,316.87 L660.46,316.50 L661.16,316.12 L661.87,315.74 L662.58,315.34 L663.28,314.95 L663.99,314.54 L664.69,314.13 L665.40,313.71 L666.11,313.29 L666.81,312.86 L667.52,312.42 L668.22,311.97 L668.93,311.51 L669.64,311.05 L670.34,310.59 L671.05,310.11 L671.75,309.63 L672.46,309.15 L673.16,308.66 L673.87,308.17 L674.58,307.68 L675.28,307.18 L675.99,306.69 L676.69,306.19 L677.40,305.69" class="ci"/>
<path d="M576.46,349.58 L577.17,349.29 L577.87,349.00 L578.58,348.71 L579.28,348.42 L579.99,348.14 L580.70,347.86 L581.40,347.58 L582.11,347.31 L582.81,347.04 L583.52,346.79 L584.22,346.54 L584.93,346.29 L585.64,346.05 L586.34,345.82 L587.05,345.60 L587.75,345.38 L588.46,345.17 L589.17,344.97 L589.87,344.78 L590.58,344.59 L591.28,344.41 L591.99,344.23 L592.70,344.06 L593.40,343.90 L594.11,343.75 L594.81,343.60 L595.52,343.46 L596.22,343.33 L596.93,343.20 L597.64,343.08 L598.34,342.97 L599.05,342.87 L599.75,342.77 L600.46,342.68 L601.17,342.60 L601.87,342.53 L602.58,342.46 L603.28,342.41 L603.99,342.36 L604.69,342.31 L605.40,342.27 L606.11,342.24 L606.81,342.21 L607.52,342.19 L608.22,342.17 L608.93,342.16 L609.64,342.14 L610.34,342.13 L611.05,342.13 L611.75,342.12 L612.46,342.11 L613.17,342.11 L613.87,342.10 L614.58,342.10 L615.28,342.10 L615.99,342.09 L616.69,342.09 L617.40,342.09 L618.11,342.08 L618.81,342.08 L619.52,342.08 L620.22,342.08 L620.93,342.08 L621.64,342.08 L622.34,342.08 L623.05,342.08 L623.75,342.08 L624.46,342.08 L625.17,342.08 L625.87,342.09 L626.58,342.09 L627.28,342.09 L627.99,342.09 L628.69,342.10 L629.40,342.10 L630.11,342.10 L630.81,342.11 L631.52,342.11 L632.22,342.12 L632.93,342.12 L633.64,342.13 L634.34,342.13 L635.05,342.14 L635.75,342.14 L636.46,342.15 L637.17,342.16 L637.87,342.16 L638.58,342.17 L639.28,342.18 L639.99,342.18 L640.69,342.19 L641.40,342.20 L642.11,342.20 L642.81,342.21 L643.52,342.22 L644.22,342.23 L644.93,342.23 L645.64,342.24 L646.34,342.25 L647.05,342.25 L647.75,342.26 L648.46,342.27 L649.17,342.28 L649.87,342.28 L650.58,342.29 L651.28,342.30 L651.99,342.30 L652.69,342.31 L653.40,342.31 L654.11,342.32 L654.81,342.33 L655.52,342.33 L656.22,342.34 L656.93,342.34 L657.64,342.35 L658.34,342.36 L659.05,342.36 L659.75,342.37 L660.46,342.37 L661.16,342.38 L661.87,342.38 L662.58,342.39 L663.28,342.39 L663.99,342.40 L664.69,342.40 L665.40,342.41 L666.11,342.41 L666.81,342.42 L667.52,342.42 L668.22,342.42 L668.93,342.43 L669.64,342.43 L670.34,342.44 L671.05,342.44 L671.75,342.45 L672.46,342.45 L673.16,342.45 L673.87,342.46 L674.58,342.46 L675.28,342.47 L675.99,342.47 L676.69,342.48 L677.40,342.48" class="ci2"/>
<path d="M576.46,344.07 L577.17,344.05 L577.87,344.03 L578.58,344.01 L579.28,343.99 L579.99,343.96 L580.70,343.94 L581.40,343.91 L582.11,343.89 L582.81,343.86 L583.52,343.82 L584.22,343.79 L584.93,343.75 L585.64,343.71 L586.34,343.66 L587.05,343.62 L587.75,343.56 L588.46,343.51 L589.17,343.45 L589.87,343.38 L590.58,343.31 L591.28,343.23 L591.99,343.15 L592.70,343.07 L593.40,342.97 L594.11,342.87 L594.81,342.77 L595.52,342.66 L596.22,342.55 L596.93,342.44 L597.64,342.32 L598.34,342.20 L599.05,342.08 L599.75,341.97 L600.46,341.85 L601.17,341.73 L601.87,341.61 L602.58,341.50 L603.28,341.38 L603.99,341.28 L604.69,341.17 L605.40,341.06 L606.11,340.96 L606.81,340.86 L607.52,340.76 L608.22,340.66 L608.93,340.56 L609.64,340.47 L610.34,340.37 L611.05,340.28 L611.75,340.18 L612.46,340.09 L613.17,340.00 L613.87,339.91 L614.58,339.82 L615.28,339.72 L615.99,339.63 L616.69,339.54 L617.40,339.45 L618.11,339.35 L618.81,339.26 L619.52,339.17 L620.22,339.07 L620.93,338.97 L621.64,338.87 L622.34,338.77 L623.05,338.67 L623.75,338.57 L624.46,338.47 L625.17,338.36 L625.87,338.26 L626.58,338.15 L627.28,338.05 L627.99,337.94 L628.69,337.83 L629.40,337.73 L630.11,337.62 L630.81,337.51 L631.52,337.40 L632.22,337.30 L632.93,337.19 L633.64,337.08 L634.34,336.97 L635.05,336.87 L635.75,336.76 L636.46,336.66 L637.17,336.55 L637.87,336.45 L638.58,336.34 L639.28,336.24 L639.99,336.14 L640.69,336.04 L641.40,335.94 L642.11,335.84 L642.81,335.74 L643.52,335.64 L644.22,335.55 L644.93,335.46 L645.64,335.36 L646.34,335.27 L647.05,335.19 L647.75,335.10 L648.46,335.01 L649.17,334.93 L649.87,334.84 L650.58,334.76 L651.28,334.68 L651.99,334.60 L652.69,334.52 L653.40,334.44 L654.11,334.36 L654.81,334.28 L655.52,334.21 L656.22,334.13 L656.93,334.06 L657.64,333.99 L658.34,333.92 L659.05,333.85 L659.75,333.78 L660.46,333.71 L661.16,333.64 L661.87,333.57 L662.58,333.50 L663.28,333.44 L663.99,333.37 L664.69,333.30 L665.40,333.24 L666.11,333.17 L666.81,333.11 L667.52,333.05 L668.22,332.98 L668.93,332.92 L669.64,332.86 L670.34,332.80 L671.05,332.74 L671.75,332.67 L672.46,332.61 L673.16,332.55 L673.87,332.49 L674.58,332.43 L675.28,332.37 L675.99,332.31 L676.69,332.25 L677.40,332.19" class="main"/>
</g>
<path d="M574.40,286.20V354.50H677.40M572.00,354.50H574.40M573.00,343.12H574.40M572.00,331.73H574.40M573.00,320.35H574.40M572.00,308.97H574.40M573.00,297.58H574.40M572.00,286.20H574.40M574.40,354.50V356.90M595.00,354.50V356.90M615.60,354.50V356.90M636.20,354.50V356.90M656.80,354.50V356.90M677.40,354.50V356.90M584.70,354.50V355.90M605.30,354.50V355.90M625.90,354.50V355.90M646.50,354.50V355.90M667.10,354.50V355.90" class="axis"/>
<text x="571.20" y="356.80" class="tl" text-anchor="end">0.00</text>
<text x="571.20" y="334.03" class="tl" text-anchor="end">0.05</text>
<text x="571.20" y="311.27" class="tl" text-anchor="end">0.10</text>
<text x="571.20" y="288.50" class="tl" text-anchor="end">0.15</text>
<text x="574.40" y="364.10" class="tl" text-anchor="middle">0</text>
<text x="595.00" y="364.10" class="tl" text-anchor="middle">100</text>
<text x="615.60" y="364.10" class="tl" text-anchor="middle">200</text>
<text x="636.20" y="364.10" class="tl" text-anchor="middle">300</text>
<text x="656.80" y="364.10" class="tl" text-anchor="middle">400</text>
<text x="677.40" y="364.10" class="tl" text-anchor="middle">500</text>
<text x="626.30" y="372.70" class="xt" style="font-size:6.55px" text-anchor="middle">Triglyceride, mg/dL</text>
<text transform="translate(545.60,320.45) rotate(-90)" class="yt" text-anchor="middle">Probability of</text>
<text transform="translate(553.80,320.45) rotate(-90)" class="yt" text-anchor="middle">noncardiovascular mortality</text>
</svg></body></html>
